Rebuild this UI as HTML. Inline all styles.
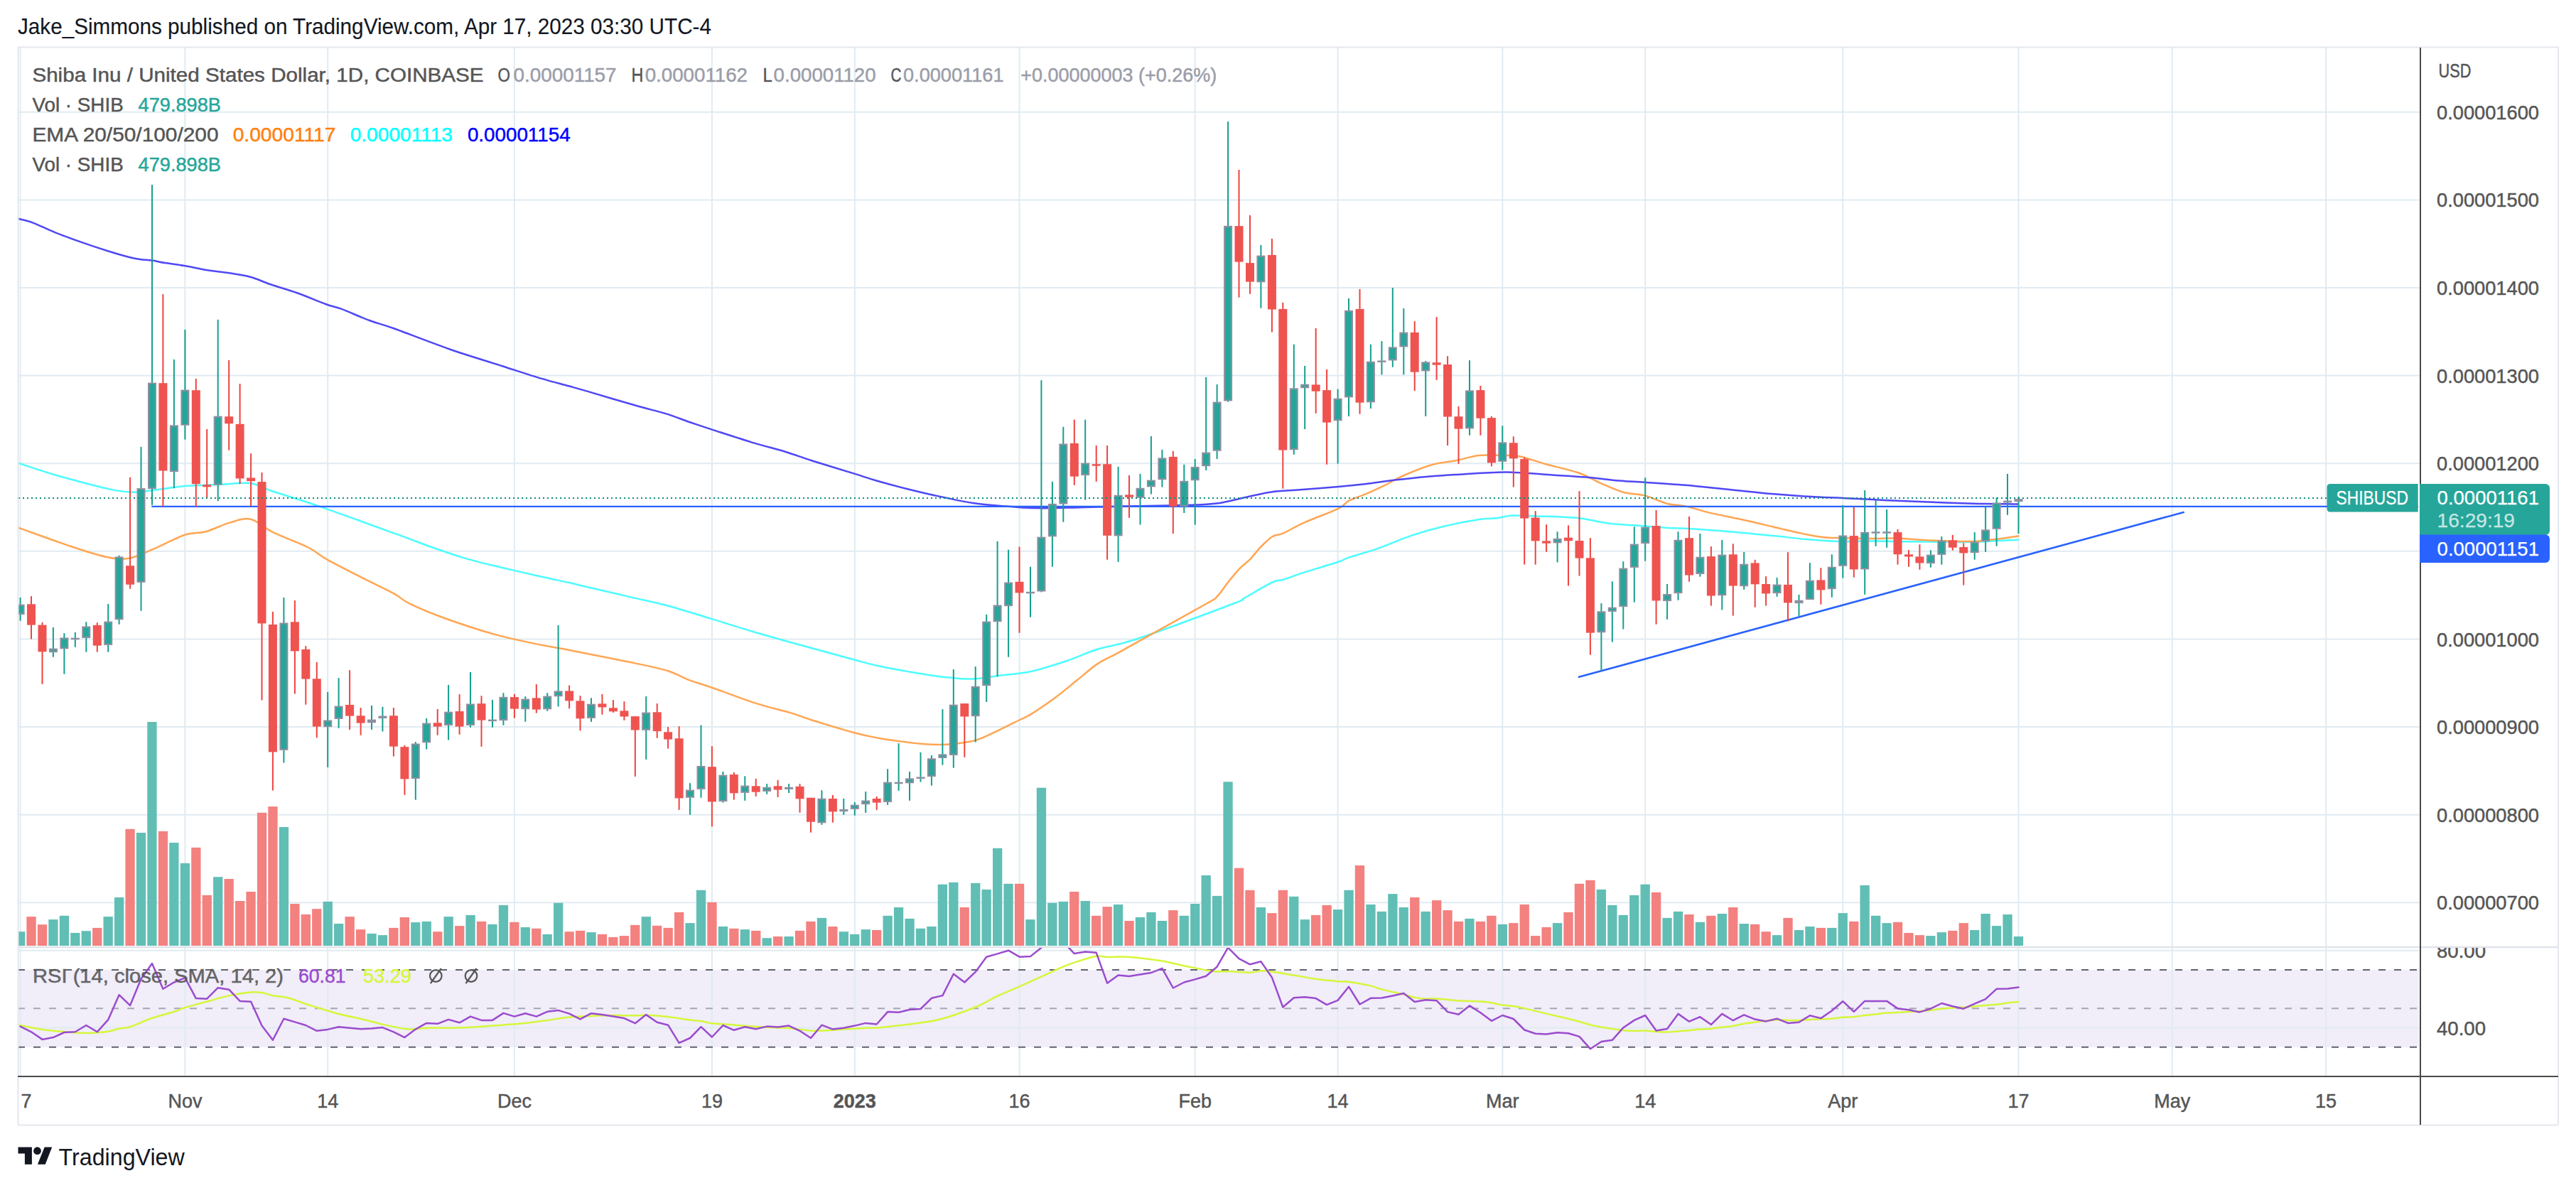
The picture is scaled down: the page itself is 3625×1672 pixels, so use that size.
<!DOCTYPE html>
<html><head><meta charset="utf-8"><title>SHIBUSD chart</title>
<style>html,body{margin:0;padding:0;background:#fff}body{width:3625px;height:1672px;overflow:hidden;font-family:"Liberation Sans",sans-serif}svg{display:block}</style>
</head><body>
<svg width="3625" height="1672" viewBox="0 0 3625 1672" font-family="Liberation Sans, sans-serif">
<rect width="3625" height="1672" fill="#fff"/>
<defs><clipPath id="cpMain"><rect x="25" y="67" width="3378" height="1265"/></clipPath><clipPath id="cpRsi"><rect x="25" y="1334" width="3575" height="181"/></clipPath></defs>
<text x="25.0" y="48.2" font-size="31.5" fill="#131722" stroke="#131722" stroke-width="0.15" textLength="976.0" lengthAdjust="spacingAndGlyphs" >Jake_Simmons published on TradingView.com, Apr 17, 2023 03:30 UTC-4</text>
<rect x="25" y="1365.0" width="3379" height="108.7" fill="#f1edf9"/>
<g stroke="#e0ebf2" stroke-width="2" fill="none">
<path d="M28.6 67V1514"/>
<path d="M260.4 67V1514"/>
<path d="M461.2 67V1514"/>
<path d="M723.9 67V1514"/>
<path d="M1001.9 67V1514"/>
<path d="M1202.8 67V1514"/>
<path d="M1434.5 67V1514"/>
<path d="M1681.7 67V1514"/>
<path d="M1882.6 67V1514"/>
<path d="M2114.3 67V1514"/>
<path d="M2315.2 67V1514"/>
<path d="M2593.3 67V1514"/>
<path d="M2840.5 67V1514"/>
<path d="M3056.8 67V1514"/>
<path d="M3273.1 67V1514"/>
<path d="M25 1270.3H3405"/>
<path d="M25 1146.7H3405"/>
<path d="M25 1023.1H3405"/>
<path d="M25 899.5H3405"/>
<path d="M25 775.8H3405"/>
<path d="M25 652.2H3405"/>
<path d="M25 528.6H3405"/>
<path d="M25 405.0H3405"/>
<path d="M25 281.4H3405"/>
<path d="M25 157.8H3405"/>
<path d="M25 1337.8H3405"/>
<path d="M25 1446.5H3405"/>
</g>
<g clip-path="url(#cpMain)">
<rect x="22.0" y="1311.2" width="13.3" height="19.8" fill="#5cbcb3" fill-opacity="0.97"/>
<rect x="37.4" y="1290.1" width="13.3" height="40.9" fill="#f37d7b" fill-opacity="0.97"/>
<rect x="52.9" y="1301.2" width="13.3" height="29.8" fill="#f37d7b" fill-opacity="0.97"/>
<rect x="68.3" y="1294.1" width="13.3" height="36.9" fill="#5cbcb3" fill-opacity="0.97"/>
<rect x="83.8" y="1288.8" width="13.3" height="42.2" fill="#5cbcb3" fill-opacity="0.97"/>
<rect x="99.2" y="1313.0" width="13.3" height="18.0" fill="#5cbcb3" fill-opacity="0.97"/>
<rect x="114.6" y="1310.2" width="13.3" height="20.8" fill="#5cbcb3" fill-opacity="0.97"/>
<rect x="130.1" y="1305.9" width="13.3" height="25.1" fill="#f37d7b" fill-opacity="0.97"/>
<rect x="145.5" y="1290.1" width="13.3" height="40.9" fill="#5cbcb3" fill-opacity="0.97"/>
<rect x="161.0" y="1263.0" width="13.3" height="68.0" fill="#5cbcb3" fill-opacity="0.97"/>
<rect x="176.4" y="1166.8" width="13.3" height="164.2" fill="#f37d7b" fill-opacity="0.97"/>
<rect x="191.9" y="1172.0" width="13.3" height="159.0" fill="#5cbcb3" fill-opacity="0.97"/>
<rect x="207.3" y="1016.0" width="13.3" height="315.0" fill="#5cbcb3" fill-opacity="0.97"/>
<rect x="222.8" y="1169.9" width="13.3" height="161.1" fill="#f37d7b" fill-opacity="0.97"/>
<rect x="238.2" y="1186.0" width="13.3" height="145.0" fill="#5cbcb3" fill-opacity="0.97"/>
<rect x="253.7" y="1214.9" width="13.3" height="116.1" fill="#5cbcb3" fill-opacity="0.97"/>
<rect x="269.2" y="1192.9" width="13.3" height="138.1" fill="#f37d7b" fill-opacity="0.97"/>
<rect x="284.6" y="1259.9" width="13.3" height="71.1" fill="#f37d7b" fill-opacity="0.97"/>
<rect x="300.1" y="1234.2" width="13.3" height="96.8" fill="#5cbcb3" fill-opacity="0.97"/>
<rect x="315.5" y="1237.0" width="13.3" height="94.0" fill="#f37d7b" fill-opacity="0.97"/>
<rect x="331.0" y="1268.0" width="13.3" height="63.0" fill="#f37d7b" fill-opacity="0.97"/>
<rect x="346.4" y="1255.0" width="13.3" height="76.0" fill="#f37d7b" fill-opacity="0.97"/>
<rect x="361.9" y="1143.8" width="13.3" height="187.2" fill="#f37d7b" fill-opacity="0.97"/>
<rect x="377.3" y="1135.1" width="13.3" height="195.9" fill="#f37d7b" fill-opacity="0.97"/>
<rect x="392.8" y="1164.0" width="13.3" height="167.0" fill="#5cbcb3" fill-opacity="0.97"/>
<rect x="408.2" y="1272.0" width="13.3" height="59.0" fill="#f37d7b" fill-opacity="0.97"/>
<rect x="423.7" y="1287.0" width="13.3" height="44.0" fill="#f37d7b" fill-opacity="0.97"/>
<rect x="439.1" y="1279.2" width="13.3" height="51.8" fill="#f37d7b" fill-opacity="0.97"/>
<rect x="454.6" y="1268.9" width="13.3" height="62.1" fill="#5cbcb3" fill-opacity="0.97"/>
<rect x="470.0" y="1300.0" width="13.3" height="31.0" fill="#5cbcb3" fill-opacity="0.97"/>
<rect x="485.5" y="1290.1" width="13.3" height="40.9" fill="#f37d7b" fill-opacity="0.97"/>
<rect x="500.9" y="1308.1" width="13.3" height="22.9" fill="#f37d7b" fill-opacity="0.97"/>
<rect x="516.4" y="1314.0" width="13.3" height="17.0" fill="#5cbcb3" fill-opacity="0.97"/>
<rect x="531.8" y="1316.1" width="13.3" height="14.9" fill="#5cbcb3" fill-opacity="0.97"/>
<rect x="547.2" y="1305.9" width="13.3" height="25.1" fill="#f37d7b" fill-opacity="0.97"/>
<rect x="562.7" y="1291.0" width="13.3" height="40.0" fill="#f37d7b" fill-opacity="0.97"/>
<rect x="578.1" y="1298.1" width="13.3" height="32.9" fill="#5cbcb3" fill-opacity="0.97"/>
<rect x="593.6" y="1296.9" width="13.3" height="34.1" fill="#5cbcb3" fill-opacity="0.97"/>
<rect x="609.1" y="1311.2" width="13.3" height="19.8" fill="#f37d7b" fill-opacity="0.97"/>
<rect x="624.5" y="1290.1" width="13.3" height="40.9" fill="#5cbcb3" fill-opacity="0.97"/>
<rect x="640.0" y="1303.1" width="13.3" height="27.9" fill="#f37d7b" fill-opacity="0.97"/>
<rect x="655.4" y="1287.9" width="13.3" height="43.1" fill="#5cbcb3" fill-opacity="0.97"/>
<rect x="670.9" y="1296.9" width="13.3" height="34.1" fill="#f37d7b" fill-opacity="0.97"/>
<rect x="686.3" y="1300.9" width="13.3" height="30.1" fill="#5cbcb3" fill-opacity="0.97"/>
<rect x="701.8" y="1273.9" width="13.3" height="57.1" fill="#5cbcb3" fill-opacity="0.97"/>
<rect x="717.2" y="1297.8" width="13.3" height="33.2" fill="#f37d7b" fill-opacity="0.97"/>
<rect x="732.6" y="1305.0" width="13.3" height="26.0" fill="#5cbcb3" fill-opacity="0.97"/>
<rect x="748.1" y="1306.8" width="13.3" height="24.2" fill="#f37d7b" fill-opacity="0.97"/>
<rect x="763.5" y="1314.9" width="13.3" height="16.1" fill="#5cbcb3" fill-opacity="0.97"/>
<rect x="779.0" y="1270.8" width="13.3" height="60.2" fill="#5cbcb3" fill-opacity="0.97"/>
<rect x="794.5" y="1311.2" width="13.3" height="19.8" fill="#f37d7b" fill-opacity="0.97"/>
<rect x="809.9" y="1309.9" width="13.3" height="21.1" fill="#f37d7b" fill-opacity="0.97"/>
<rect x="825.4" y="1312.1" width="13.3" height="18.9" fill="#5cbcb3" fill-opacity="0.97"/>
<rect x="840.8" y="1314.9" width="13.3" height="16.1" fill="#f37d7b" fill-opacity="0.97"/>
<rect x="856.2" y="1318.9" width="13.3" height="12.1" fill="#f37d7b" fill-opacity="0.97"/>
<rect x="871.7" y="1317.1" width="13.3" height="13.9" fill="#f37d7b" fill-opacity="0.97"/>
<rect x="887.1" y="1301.9" width="13.3" height="29.1" fill="#f37d7b" fill-opacity="0.97"/>
<rect x="902.6" y="1290.1" width="13.3" height="40.9" fill="#5cbcb3" fill-opacity="0.97"/>
<rect x="918.0" y="1302.8" width="13.3" height="28.2" fill="#f37d7b" fill-opacity="0.97"/>
<rect x="933.5" y="1305.9" width="13.3" height="25.1" fill="#f37d7b" fill-opacity="0.97"/>
<rect x="949.0" y="1283.9" width="13.3" height="47.1" fill="#f37d7b" fill-opacity="0.97"/>
<rect x="964.4" y="1299.1" width="13.3" height="31.9" fill="#5cbcb3" fill-opacity="0.97"/>
<rect x="979.9" y="1252.8" width="13.3" height="78.2" fill="#5cbcb3" fill-opacity="0.97"/>
<rect x="995.3" y="1269.9" width="13.3" height="61.1" fill="#f37d7b" fill-opacity="0.97"/>
<rect x="1010.8" y="1304.0" width="13.3" height="27.0" fill="#5cbcb3" fill-opacity="0.97"/>
<rect x="1026.2" y="1306.8" width="13.3" height="24.2" fill="#f37d7b" fill-opacity="0.97"/>
<rect x="1041.6" y="1308.1" width="13.3" height="22.9" fill="#5cbcb3" fill-opacity="0.97"/>
<rect x="1057.1" y="1309.9" width="13.3" height="21.1" fill="#f37d7b" fill-opacity="0.97"/>
<rect x="1072.5" y="1320.2" width="13.3" height="10.8" fill="#5cbcb3" fill-opacity="0.97"/>
<rect x="1088.0" y="1318.0" width="13.3" height="13.0" fill="#f37d7b" fill-opacity="0.97"/>
<rect x="1103.4" y="1318.0" width="13.3" height="13.0" fill="#5cbcb3" fill-opacity="0.97"/>
<rect x="1118.9" y="1309.9" width="13.3" height="21.1" fill="#f37d7b" fill-opacity="0.97"/>
<rect x="1134.3" y="1296.9" width="13.3" height="34.1" fill="#f37d7b" fill-opacity="0.97"/>
<rect x="1149.8" y="1291.9" width="13.3" height="39.1" fill="#5cbcb3" fill-opacity="0.97"/>
<rect x="1165.2" y="1304.0" width="13.3" height="27.0" fill="#f37d7b" fill-opacity="0.97"/>
<rect x="1180.7" y="1311.2" width="13.3" height="19.8" fill="#5cbcb3" fill-opacity="0.97"/>
<rect x="1196.1" y="1314.9" width="13.3" height="16.1" fill="#5cbcb3" fill-opacity="0.97"/>
<rect x="1211.6" y="1308.1" width="13.3" height="22.9" fill="#5cbcb3" fill-opacity="0.97"/>
<rect x="1227.0" y="1309.0" width="13.3" height="22.0" fill="#f37d7b" fill-opacity="0.97"/>
<rect x="1242.5" y="1288.8" width="13.3" height="42.2" fill="#5cbcb3" fill-opacity="0.97"/>
<rect x="1257.9" y="1277.0" width="13.3" height="54.0" fill="#5cbcb3" fill-opacity="0.97"/>
<rect x="1273.4" y="1292.9" width="13.3" height="38.1" fill="#5cbcb3" fill-opacity="0.97"/>
<rect x="1288.8" y="1306.8" width="13.3" height="24.2" fill="#5cbcb3" fill-opacity="0.97"/>
<rect x="1304.3" y="1304.0" width="13.3" height="27.0" fill="#5cbcb3" fill-opacity="0.97"/>
<rect x="1319.7" y="1244.7" width="13.3" height="86.3" fill="#5cbcb3" fill-opacity="0.97"/>
<rect x="1335.2" y="1241.9" width="13.3" height="89.1" fill="#5cbcb3" fill-opacity="0.97"/>
<rect x="1350.6" y="1277.0" width="13.3" height="54.0" fill="#f37d7b" fill-opacity="0.97"/>
<rect x="1366.1" y="1242.9" width="13.3" height="88.1" fill="#5cbcb3" fill-opacity="0.97"/>
<rect x="1381.5" y="1251.9" width="13.3" height="79.1" fill="#5cbcb3" fill-opacity="0.97"/>
<rect x="1397.0" y="1193.8" width="13.3" height="137.2" fill="#5cbcb3" fill-opacity="0.97"/>
<rect x="1412.4" y="1243.8" width="13.3" height="87.2" fill="#5cbcb3" fill-opacity="0.97"/>
<rect x="1427.9" y="1243.8" width="13.3" height="87.2" fill="#f37d7b" fill-opacity="0.97"/>
<rect x="1443.3" y="1294.1" width="13.3" height="36.9" fill="#5cbcb3" fill-opacity="0.97"/>
<rect x="1458.8" y="1108.7" width="13.3" height="222.3" fill="#5cbcb3" fill-opacity="0.97"/>
<rect x="1474.2" y="1270.8" width="13.3" height="60.2" fill="#5cbcb3" fill-opacity="0.97"/>
<rect x="1489.7" y="1268.9" width="13.3" height="62.1" fill="#5cbcb3" fill-opacity="0.97"/>
<rect x="1505.1" y="1255.0" width="13.3" height="76.0" fill="#f37d7b" fill-opacity="0.97"/>
<rect x="1520.6" y="1268.0" width="13.3" height="63.0" fill="#5cbcb3" fill-opacity="0.97"/>
<rect x="1536.0" y="1288.8" width="13.3" height="42.2" fill="#f37d7b" fill-opacity="0.97"/>
<rect x="1551.5" y="1276.1" width="13.3" height="54.9" fill="#f37d7b" fill-opacity="0.97"/>
<rect x="1566.9" y="1273.0" width="13.3" height="58.0" fill="#5cbcb3" fill-opacity="0.97"/>
<rect x="1582.4" y="1296.0" width="13.3" height="35.0" fill="#f37d7b" fill-opacity="0.97"/>
<rect x="1597.8" y="1291.0" width="13.3" height="40.0" fill="#5cbcb3" fill-opacity="0.97"/>
<rect x="1613.3" y="1283.9" width="13.3" height="47.1" fill="#5cbcb3" fill-opacity="0.97"/>
<rect x="1628.7" y="1296.0" width="13.3" height="35.0" fill="#5cbcb3" fill-opacity="0.97"/>
<rect x="1644.2" y="1281.1" width="13.3" height="49.9" fill="#f37d7b" fill-opacity="0.97"/>
<rect x="1659.6" y="1288.8" width="13.3" height="42.2" fill="#5cbcb3" fill-opacity="0.97"/>
<rect x="1675.1" y="1272.0" width="13.3" height="59.0" fill="#5cbcb3" fill-opacity="0.97"/>
<rect x="1690.5" y="1232.0" width="13.3" height="99.0" fill="#5cbcb3" fill-opacity="0.97"/>
<rect x="1706.0" y="1260.9" width="13.3" height="70.1" fill="#5cbcb3" fill-opacity="0.97"/>
<rect x="1721.4" y="1100.3" width="13.3" height="230.7" fill="#5cbcb3" fill-opacity="0.97"/>
<rect x="1736.9" y="1221.7" width="13.3" height="109.3" fill="#f37d7b" fill-opacity="0.97"/>
<rect x="1752.3" y="1252.8" width="13.3" height="78.2" fill="#f37d7b" fill-opacity="0.97"/>
<rect x="1767.8" y="1277.0" width="13.3" height="54.0" fill="#5cbcb3" fill-opacity="0.97"/>
<rect x="1783.2" y="1285.1" width="13.3" height="45.9" fill="#f37d7b" fill-opacity="0.97"/>
<rect x="1798.7" y="1252.8" width="13.3" height="78.2" fill="#f37d7b" fill-opacity="0.97"/>
<rect x="1814.1" y="1261.8" width="13.3" height="69.2" fill="#5cbcb3" fill-opacity="0.97"/>
<rect x="1829.6" y="1294.1" width="13.3" height="36.9" fill="#5cbcb3" fill-opacity="0.97"/>
<rect x="1845.0" y="1287.9" width="13.3" height="43.1" fill="#f37d7b" fill-opacity="0.97"/>
<rect x="1860.5" y="1273.9" width="13.3" height="57.1" fill="#f37d7b" fill-opacity="0.97"/>
<rect x="1875.9" y="1280.1" width="13.3" height="50.9" fill="#5cbcb3" fill-opacity="0.97"/>
<rect x="1891.4" y="1252.8" width="13.3" height="78.2" fill="#5cbcb3" fill-opacity="0.97"/>
<rect x="1906.8" y="1218.0" width="13.3" height="113.0" fill="#f37d7b" fill-opacity="0.97"/>
<rect x="1922.3" y="1273.0" width="13.3" height="58.0" fill="#5cbcb3" fill-opacity="0.97"/>
<rect x="1937.7" y="1282.9" width="13.3" height="48.1" fill="#5cbcb3" fill-opacity="0.97"/>
<rect x="1953.2" y="1258.1" width="13.3" height="72.9" fill="#5cbcb3" fill-opacity="0.97"/>
<rect x="1968.6" y="1277.0" width="13.3" height="54.0" fill="#5cbcb3" fill-opacity="0.97"/>
<rect x="1984.1" y="1263.0" width="13.3" height="68.0" fill="#f37d7b" fill-opacity="0.97"/>
<rect x="1999.5" y="1282.9" width="13.3" height="48.1" fill="#5cbcb3" fill-opacity="0.97"/>
<rect x="2015.0" y="1267.1" width="13.3" height="63.9" fill="#f37d7b" fill-opacity="0.97"/>
<rect x="2030.4" y="1281.1" width="13.3" height="49.9" fill="#f37d7b" fill-opacity="0.97"/>
<rect x="2045.9" y="1296.9" width="13.3" height="34.1" fill="#f37d7b" fill-opacity="0.97"/>
<rect x="2061.3" y="1292.9" width="13.3" height="38.1" fill="#5cbcb3" fill-opacity="0.97"/>
<rect x="2076.8" y="1296.9" width="13.3" height="34.1" fill="#f37d7b" fill-opacity="0.97"/>
<rect x="2092.2" y="1288.8" width="13.3" height="42.2" fill="#f37d7b" fill-opacity="0.97"/>
<rect x="2107.7" y="1300.9" width="13.3" height="30.1" fill="#5cbcb3" fill-opacity="0.97"/>
<rect x="2123.1" y="1299.1" width="13.3" height="31.9" fill="#f37d7b" fill-opacity="0.97"/>
<rect x="2138.6" y="1273.0" width="13.3" height="58.0" fill="#f37d7b" fill-opacity="0.97"/>
<rect x="2154.0" y="1317.1" width="13.3" height="13.9" fill="#f37d7b" fill-opacity="0.97"/>
<rect x="2169.5" y="1305.0" width="13.3" height="26.0" fill="#f37d7b" fill-opacity="0.97"/>
<rect x="2184.9" y="1299.1" width="13.3" height="31.9" fill="#5cbcb3" fill-opacity="0.97"/>
<rect x="2200.4" y="1283.9" width="13.3" height="47.1" fill="#f37d7b" fill-opacity="0.97"/>
<rect x="2215.8" y="1243.8" width="13.3" height="87.2" fill="#f37d7b" fill-opacity="0.97"/>
<rect x="2231.3" y="1238.8" width="13.3" height="92.2" fill="#f37d7b" fill-opacity="0.97"/>
<rect x="2246.7" y="1251.9" width="13.3" height="79.1" fill="#5cbcb3" fill-opacity="0.97"/>
<rect x="2262.2" y="1273.9" width="13.3" height="57.1" fill="#5cbcb3" fill-opacity="0.97"/>
<rect x="2277.6" y="1287.9" width="13.3" height="43.1" fill="#5cbcb3" fill-opacity="0.97"/>
<rect x="2293.1" y="1259.9" width="13.3" height="71.1" fill="#5cbcb3" fill-opacity="0.97"/>
<rect x="2308.5" y="1244.7" width="13.3" height="86.3" fill="#5cbcb3" fill-opacity="0.97"/>
<rect x="2324.0" y="1255.9" width="13.3" height="75.1" fill="#f37d7b" fill-opacity="0.97"/>
<rect x="2339.4" y="1291.9" width="13.3" height="39.1" fill="#5cbcb3" fill-opacity="0.97"/>
<rect x="2354.9" y="1282.9" width="13.3" height="48.1" fill="#5cbcb3" fill-opacity="0.97"/>
<rect x="2370.3" y="1287.0" width="13.3" height="44.0" fill="#f37d7b" fill-opacity="0.97"/>
<rect x="2385.8" y="1297.8" width="13.3" height="33.2" fill="#5cbcb3" fill-opacity="0.97"/>
<rect x="2401.2" y="1288.8" width="13.3" height="42.2" fill="#f37d7b" fill-opacity="0.97"/>
<rect x="2416.7" y="1286.0" width="13.3" height="45.0" fill="#5cbcb3" fill-opacity="0.97"/>
<rect x="2432.1" y="1277.0" width="13.3" height="54.0" fill="#f37d7b" fill-opacity="0.97"/>
<rect x="2447.6" y="1300.0" width="13.3" height="31.0" fill="#5cbcb3" fill-opacity="0.97"/>
<rect x="2463.0" y="1300.9" width="13.3" height="30.1" fill="#f37d7b" fill-opacity="0.97"/>
<rect x="2478.5" y="1311.2" width="13.3" height="19.8" fill="#f37d7b" fill-opacity="0.97"/>
<rect x="2493.9" y="1316.1" width="13.3" height="14.9" fill="#5cbcb3" fill-opacity="0.97"/>
<rect x="2509.4" y="1291.9" width="13.3" height="39.1" fill="#f37d7b" fill-opacity="0.97"/>
<rect x="2524.8" y="1309.0" width="13.3" height="22.0" fill="#5cbcb3" fill-opacity="0.97"/>
<rect x="2540.3" y="1304.0" width="13.3" height="27.0" fill="#5cbcb3" fill-opacity="0.97"/>
<rect x="2555.7" y="1305.9" width="13.3" height="25.1" fill="#f37d7b" fill-opacity="0.97"/>
<rect x="2571.2" y="1305.9" width="13.3" height="25.1" fill="#5cbcb3" fill-opacity="0.97"/>
<rect x="2586.6" y="1285.1" width="13.3" height="45.9" fill="#5cbcb3" fill-opacity="0.97"/>
<rect x="2602.1" y="1296.9" width="13.3" height="34.1" fill="#f37d7b" fill-opacity="0.97"/>
<rect x="2617.5" y="1246.0" width="13.3" height="85.0" fill="#5cbcb3" fill-opacity="0.97"/>
<rect x="2633.0" y="1288.8" width="13.3" height="42.2" fill="#5cbcb3" fill-opacity="0.97"/>
<rect x="2648.4" y="1299.1" width="13.3" height="31.9" fill="#5cbcb3" fill-opacity="0.97"/>
<rect x="2663.9" y="1297.8" width="13.3" height="33.2" fill="#f37d7b" fill-opacity="0.97"/>
<rect x="2679.3" y="1313.0" width="13.3" height="18.0" fill="#f37d7b" fill-opacity="0.97"/>
<rect x="2694.8" y="1316.1" width="13.3" height="14.9" fill="#f37d7b" fill-opacity="0.97"/>
<rect x="2710.2" y="1317.1" width="13.3" height="13.9" fill="#5cbcb3" fill-opacity="0.97"/>
<rect x="2725.7" y="1312.1" width="13.3" height="18.9" fill="#5cbcb3" fill-opacity="0.97"/>
<rect x="2741.1" y="1309.9" width="13.3" height="21.1" fill="#f37d7b" fill-opacity="0.97"/>
<rect x="2756.6" y="1299.1" width="13.3" height="31.9" fill="#f37d7b" fill-opacity="0.97"/>
<rect x="2772.0" y="1309.0" width="13.3" height="22.0" fill="#5cbcb3" fill-opacity="0.97"/>
<rect x="2787.5" y="1286.0" width="13.3" height="45.0" fill="#5cbcb3" fill-opacity="0.97"/>
<rect x="2802.9" y="1303.1" width="13.3" height="27.9" fill="#5cbcb3" fill-opacity="0.97"/>
<rect x="2818.4" y="1287.0" width="13.3" height="44.0" fill="#5cbcb3" fill-opacity="0.97"/>
<rect x="2833.8" y="1318.0" width="13.3" height="13.0" fill="#5cbcb3" fill-opacity="0.97"/>
</g>
<path d="M25 1333H3600" stroke="#e0e3eb" stroke-width="2.5"/>
<g clip-path="url(#cpMain)">
<path d="M25.5 651.6 C34.3 654.4 56.7 662.4 77.9 668.5 C99.0 674.5 134.4 684.0 152.6 688.1 C170.8 692.1 176.0 692.5 186.9 692.7 C197.8 693.0 205.8 691.1 218.0 689.6 C230.2 688.2 244.5 685.3 260.0 684.0 C275.6 682.7 296.0 682.5 311.4 681.8 C326.9 681.2 340.9 678.7 352.8 680.3 C364.8 681.8 367.1 685.8 383.1 691.2 C399.0 696.5 419.9 702.5 448.5 712.4 C477.0 722.2 527.9 740.8 554.3 750.4 C580.8 760.0 590.7 764.1 607.3 770.0 C623.9 775.8 637.4 780.7 654.0 785.6 C670.6 790.4 688.9 794.6 706.9 799.0 C725.0 803.3 746.8 808.2 762.3 811.7 C777.8 815.2 789.7 817.5 800.1 819.8 C810.4 822.2 809.8 822.2 824.6 825.7 C839.3 829.2 869.8 836.3 888.6 840.6 C907.3 845.0 918.2 846.7 937.0 851.8 C955.9 856.9 980.5 864.7 1001.8 871.1 C1023.1 877.6 1041.3 883.6 1064.7 890.5 C1088.2 897.3 1119.5 905.9 1142.6 912.3 C1165.6 918.6 1187.4 924.6 1203.0 928.8 C1218.6 932.9 1222.2 934.2 1236.0 937.2 C1249.8 940.1 1270.3 943.9 1285.8 946.5 C1301.4 949.2 1315.4 951.5 1329.4 953.0 C1343.4 954.6 1357.5 955.9 1369.9 955.5 C1382.4 955.2 1390.7 952.9 1404.2 951.2 C1417.7 949.4 1434.8 948.4 1450.9 945.0 C1467.0 941.5 1485.1 935.5 1500.7 930.3 C1516.3 925.1 1527.8 919.0 1544.3 913.8 C1560.9 908.6 1568.4 909.8 1600.1 899.2 C1631.8 888.5 1709.2 859.6 1734.4 850.0 C1759.7 840.3 1742.2 846.3 1751.6 841.3 C1760.9 836.2 1781.4 823.7 1790.5 819.5 C1799.6 815.2 1798.5 818.1 1806.1 815.7 C1813.6 813.4 1822.8 809.6 1835.7 805.4 C1848.5 801.3 1872.9 794.3 1883.3 790.8 C1893.7 787.3 1888.8 787.7 1897.9 784.6 C1907.1 781.5 1923.9 777.2 1938.4 772.1 C1953.0 767.0 1969.6 759.3 1985.1 754.1 C2000.7 748.8 2015.8 744.5 2031.9 740.7 C2048.0 736.8 2069.3 732.8 2081.7 730.9 C2094.2 729.0 2098.9 730.1 2106.7 729.2 C2114.5 728.3 2119.2 725.9 2128.5 725.5 C2137.9 725.0 2147.2 725.8 2162.8 726.4 C2178.3 727.0 2205.3 727.5 2221.9 729.2 C2238.6 730.9 2247.0 734.5 2262.4 736.4 C2277.9 738.2 2300.7 739.3 2314.7 740.4 C2328.8 741.5 2337.1 742.3 2346.5 742.9 C2356.0 743.5 2356.9 743.0 2371.4 743.8 C2386.0 744.7 2413.0 746.5 2433.7 748.2 C2454.5 749.9 2479.4 752.5 2496.0 754.1 C2512.6 755.8 2522.0 757.1 2533.4 758.2 C2544.8 759.3 2554.5 760.0 2564.5 760.7 C2574.5 761.3 2581.2 761.8 2593.2 761.9 C2605.1 762.1 2621.2 761.5 2636.1 761.6 C2651.1 761.6 2664.7 762.0 2682.9 762.2 C2701.0 762.4 2729.6 762.7 2745.1 762.8 C2760.7 762.9 2765.9 763.1 2776.3 762.8 C2786.7 762.6 2796.8 761.8 2807.4 761.3 C2818.1 760.8 2834.7 760.0 2840.1 759.7" stroke="#4dfcff" stroke-width="2.5" fill="none" stroke-linejoin="round" stroke-linecap="round" />
<path d="M25.5 742.6 C38.4 747.1 81.6 763.0 102.8 770.0 C123.9 777.0 139.3 782.0 152.6 784.6 C165.9 787.2 172.4 787.5 182.8 785.6 C193.2 783.7 202.0 778.6 214.9 773.1 C227.8 767.7 247.6 757.0 260.0 752.8 C272.5 748.7 279.0 751.1 289.6 748.2 C300.3 745.3 313.3 738.3 323.9 735.4 C334.4 732.5 342.7 728.4 352.8 730.7 C363.0 733.1 371.3 742.9 384.6 749.4 C398.0 756.0 420.2 763.6 432.9 770.0 C445.6 776.4 447.9 780.5 460.9 787.8 C473.9 795.0 495.2 805.7 510.7 813.6 C526.3 821.5 543.4 829.4 554.3 835.4 C565.2 841.4 564.7 843.8 576.1 849.4 C587.6 855.0 603.1 861.9 622.9 869.0 C642.6 876.2 672.7 886.2 694.5 892.4 C716.3 898.6 736.1 902.4 753.7 906.1 C771.3 909.8 784.6 911.8 800.1 914.8 C815.6 917.8 831.2 921.0 846.7 924.1 C862.3 927.2 877.9 930.1 893.4 933.4 C909.0 936.8 927.2 940.3 940.1 944.3 C953.1 948.4 961.0 953.8 971.3 957.7 C981.6 961.6 986.2 962.3 1001.8 967.7 C1017.4 973.1 1046.4 984.2 1064.7 990.1 C1083.0 996.0 1098.5 999.0 1111.4 1002.9 C1124.4 1006.8 1127.3 1008.7 1142.6 1013.5 C1157.8 1018.2 1187.4 1027.3 1203.0 1031.5 C1218.6 1035.7 1225.3 1036.7 1236.0 1038.7 C1246.7 1040.7 1256.8 1042.0 1267.1 1043.4 C1277.5 1044.8 1288.4 1046.3 1298.3 1047.1 C1308.1 1047.9 1316.5 1048.4 1326.3 1048.0 C1336.2 1047.7 1349.2 1046.1 1357.5 1044.9 C1365.8 1043.7 1368.4 1043.6 1376.1 1040.9 C1383.9 1038.1 1394.5 1033.0 1404.2 1028.4 C1413.8 1023.8 1426.3 1017.4 1434.1 1013.5 C1441.9 1009.6 1442.4 1010.4 1450.9 1005.1 C1459.4 999.8 1474.2 989.7 1485.1 981.7 C1496.0 973.7 1506.4 964.7 1516.3 956.8 C1526.1 948.9 1535.0 940.6 1544.3 934.4 C1553.7 928.1 1563.1 924.5 1572.3 919.4 C1581.6 914.3 1579.3 915.4 1600.1 903.8 C1620.9 892.3 1678.3 860.7 1697.1 850.0 C1715.8 839.3 1707.5 844.8 1712.6 839.7 C1717.8 834.6 1723.0 825.9 1728.2 819.5 C1733.4 813.0 1738.6 806.2 1743.8 800.8 C1749.0 795.3 1754.2 792.1 1759.4 786.8 C1764.5 781.5 1769.7 774.2 1774.9 769.0 C1780.1 763.8 1785.3 758.4 1790.5 755.3 C1795.7 752.2 1798.5 753.6 1806.1 750.3 C1813.6 747.0 1822.8 741.1 1835.7 735.4 C1848.5 729.6 1872.9 720.8 1883.3 715.8 C1893.7 710.7 1891.4 708.3 1897.9 704.9 C1904.5 701.4 1914.6 698.5 1922.9 694.9 C1931.2 691.3 1938.9 687.7 1947.8 683.4 C1956.6 679.1 1964.4 674.0 1975.8 669.0 C1987.2 664.1 2004.3 657.2 2016.3 653.8 C2028.2 650.4 2036.8 650.6 2047.4 648.5 C2058.1 646.4 2070.3 642.3 2080.2 641.0 C2090.1 639.8 2097.1 640.5 2106.7 640.8 C2116.3 641.0 2126.4 640.2 2137.9 642.3 C2149.3 644.4 2161.2 649.3 2175.2 653.2 C2189.2 657.1 2209.0 661.2 2221.9 665.7 C2234.9 670.2 2242.7 675.8 2253.1 680.3 C2263.5 684.8 2274.0 689.9 2284.2 692.8 C2294.5 695.6 2304.4 694.7 2314.7 697.4 C2325.1 700.1 2337.1 706.5 2346.5 709.0 C2356.0 711.5 2361.0 710.2 2371.4 712.4 C2381.8 714.6 2395.8 719.3 2408.8 722.4 C2421.8 725.4 2434.8 727.5 2449.3 730.8 C2463.8 734.0 2482.0 738.4 2496.0 741.7 C2510.0 744.9 2522.0 748.0 2533.4 750.4 C2544.8 752.8 2554.5 754.8 2564.5 756.0 C2574.5 757.1 2581.2 756.9 2593.2 757.2 C2605.1 757.5 2623.8 757.8 2636.1 757.9 C2648.5 757.9 2654.3 757.1 2667.3 757.5 C2680.3 758.0 2701.0 759.7 2714.0 760.4 C2727.0 761.0 2734.8 761.3 2745.1 761.6 C2755.5 761.9 2765.9 762.3 2776.3 761.9 C2786.7 761.5 2796.8 760.4 2807.4 759.1 C2818.1 757.9 2834.7 755.2 2840.1 754.4" stroke="#ffa653" stroke-width="2.5" fill="none" stroke-linejoin="round" stroke-linecap="round" />
<path d="M25.2 307.8 C28.7 308.7 37.7 310.3 46.5 313.6 C55.2 316.8 65.8 322.5 77.4 327.1 C89.0 331.8 103.9 337.1 116.1 341.4 C128.4 345.8 140.0 349.6 151.0 353.0 C162.0 356.5 174.2 360.0 182.0 362.0 C189.7 364.0 192.1 364.3 197.4 365.0 C202.8 365.8 208.3 365.8 214.1 366.6 C219.9 367.4 224.7 368.9 232.3 370.1 C239.8 371.3 249.7 372.3 259.4 374.0 C269.1 375.6 280.0 378.5 290.4 380.1 C300.7 381.8 311.0 382.4 321.3 384.0 C331.7 385.6 342.4 387.1 352.3 389.8 C362.2 392.5 369.9 396.6 380.8 400.3 C391.8 404.1 405.1 407.6 418.1 412.3 C431.1 416.9 448.6 424.5 458.9 428.2 C469.2 432.0 469.9 430.9 480.1 434.7 C490.2 438.5 507.6 446.4 519.9 451.0 C532.3 455.6 535.6 455.6 554.3 462.3 C573.1 469.0 606.8 482.4 632.2 491.2 C657.6 500.1 685.3 508.3 706.9 515.2 C728.6 522.2 746.8 528.3 762.3 532.9 C777.8 537.6 789.7 540.4 800.1 543.3 C810.4 546.1 809.1 545.6 824.6 550.1 C840.1 554.6 874.4 565.0 893.1 570.3 C911.8 575.7 923.7 578.2 936.7 582.1 C949.7 586.1 960.0 590.6 970.9 594.3 C981.8 598.0 987.6 599.8 1002.1 604.6 C1016.6 609.3 1041.0 617.4 1058.1 622.6 C1075.3 627.8 1090.8 631.5 1104.9 635.7 C1118.9 640.0 1125.9 643.0 1142.2 648.2 C1158.6 653.4 1187.9 662.2 1203.0 666.9 C1218.0 671.5 1220.3 672.7 1232.5 676.2 C1244.7 679.7 1261.1 684.2 1276.1 688.0 C1291.2 691.8 1307.3 695.6 1322.9 698.9 C1338.4 702.3 1354.0 705.7 1369.6 708.0 C1385.1 710.3 1403.3 711.5 1416.3 712.6 C1429.3 713.8 1437.0 714.4 1447.4 714.8 C1457.8 715.2 1466.8 715.2 1478.6 715.1 C1490.3 715.0 1501.0 714.6 1518.0 714.2 C1535.0 713.8 1559.5 713.1 1580.3 712.6 C1601.0 712.2 1625.6 711.8 1642.6 711.4 C1659.5 711.0 1670.2 711.0 1682.1 710.5 C1694.1 709.9 1702.6 710.0 1714.2 708.3 C1725.8 706.6 1739.1 702.8 1751.6 700.2 C1764.0 697.5 1776.0 694.2 1788.9 692.4 C1801.9 690.6 1813.7 690.5 1829.4 689.3 C1845.2 688.0 1867.7 686.3 1883.3 684.9 C1898.9 683.5 1909.5 682.4 1922.9 680.9 C1936.2 679.3 1949.3 677.2 1963.3 675.6 C1977.4 673.9 1991.1 672.3 2006.9 670.9 C2022.8 669.5 2044.4 668.3 2058.4 667.4 C2072.4 666.4 2079.5 665.8 2091.1 665.4 C2102.8 664.9 2112.9 664.2 2128.5 664.7 C2144.1 665.3 2167.4 667.3 2184.6 668.5 C2201.7 669.6 2215.7 670.2 2231.3 671.6 C2246.9 672.9 2264.1 675.4 2278.0 676.6 C2291.9 677.8 2299.2 677.7 2314.7 678.8 C2330.3 679.8 2351.6 681.1 2371.4 682.8 C2391.3 684.5 2413.0 687.0 2433.7 689.0 C2454.5 691.1 2475.2 693.5 2496.0 695.3 C2516.8 697.0 2542.1 698.7 2558.3 699.6 C2574.5 700.6 2577.6 700.1 2593.2 700.9 C2608.7 701.6 2631.6 703.0 2651.7 704.0 C2671.9 704.9 2693.2 705.7 2714.0 706.5 C2734.8 707.3 2755.3 708.1 2776.3 708.7 C2797.3 709.2 2829.5 709.4 2840.1 709.6" stroke="#4f48f5" stroke-width="2.5" fill="none" stroke-linejoin="round" stroke-linecap="round" />
<path d="M213.3 712.9H3406" stroke="#2962ff" stroke-width="2.3"/>
<path d="M2221.9 952.8L3072.7 721" stroke="#2962ff" stroke-width="2.6" stroke-linecap="round"/>
<rect x="27.6" y="841.0" width="2" height="32.7" fill="#149f8f"/>
<rect x="23.6" y="851.7" width="10" height="12.3" fill="#26a69a" stroke="#8e90a0" stroke-width="2"/>
<rect x="43.0" y="839.1" width="2" height="60.4" fill="#ee4340"/>
<rect x="38.0" y="850.3" width="12" height="29.3" fill="#ef5350"/>
<rect x="58.5" y="875.9" width="2" height="86.9" fill="#ee4340"/>
<rect x="53.5" y="879.6" width="12" height="37.7" fill="#ef5350"/>
<rect x="73.9" y="883.0" width="2" height="41.7" fill="#149f8f"/>
<rect x="69.9" y="913.6" width="10" height="3.6" fill="#26a69a" stroke="#8e90a0" stroke-width="2"/>
<rect x="89.4" y="891.1" width="2" height="57.6" fill="#149f8f"/>
<rect x="85.4" y="898.4" width="10" height="13.9" fill="#26a69a" stroke="#8e90a0" stroke-width="2"/>
<rect x="104.8" y="889.9" width="2" height="20.9" fill="#149f8f"/>
<rect x="99.8" y="897.7" width="12" height="2.5" fill="#8e90a0"/>
<rect x="120.3" y="875.3" width="2" height="42.4" fill="#149f8f"/>
<rect x="116.3" y="882.5" width="10" height="14.5" fill="#26a69a" stroke="#8e90a0" stroke-width="2"/>
<rect x="135.8" y="876.2" width="2" height="41.4" fill="#ee4340"/>
<rect x="130.8" y="879.9" width="12" height="28.7" fill="#ef5350"/>
<rect x="151.2" y="850.0" width="2" height="67.6" fill="#149f8f"/>
<rect x="147.2" y="875.6" width="10" height="31.3" fill="#26a69a" stroke="#8e90a0" stroke-width="2"/>
<rect x="166.6" y="781.8" width="2" height="96.9" fill="#149f8f"/>
<rect x="162.6" y="784.4" width="10" height="86.8" fill="#26a69a" stroke="#8e90a0" stroke-width="2"/>
<rect x="182.1" y="671.9" width="2" height="156.7" fill="#ee4340"/>
<rect x="177.1" y="796.2" width="12" height="26.5" fill="#ef5350"/>
<rect x="197.5" y="628.9" width="2" height="230.8" fill="#149f8f"/>
<rect x="193.5" y="688.1" width="10" height="130.7" fill="#26a69a" stroke="#8e90a0" stroke-width="2"/>
<rect x="213.0" y="260.1" width="2" height="450.7" fill="#149f8f"/>
<rect x="209.0" y="539.6" width="10" height="147.5" fill="#26a69a" stroke="#8e90a0" stroke-width="2"/>
<rect x="228.4" y="414.0" width="2" height="299.0" fill="#ee4340"/>
<rect x="223.4" y="539.2" width="12" height="123.3" fill="#ef5350"/>
<rect x="243.9" y="505.9" width="2" height="181.3" fill="#149f8f"/>
<rect x="239.9" y="599.4" width="10" height="63.7" fill="#26a69a" stroke="#8e90a0" stroke-width="2"/>
<rect x="259.4" y="463.8" width="2" height="154.8" fill="#149f8f"/>
<rect x="255.4" y="549.6" width="10" height="48.1" fill="#26a69a" stroke="#8e90a0" stroke-width="2"/>
<rect x="274.8" y="533.0" width="2" height="180.0" fill="#ee4340"/>
<rect x="269.8" y="549.2" width="12" height="132.0" fill="#ef5350"/>
<rect x="290.2" y="604.0" width="2" height="96.5" fill="#ee4340"/>
<rect x="285.2" y="682.2" width="12" height="3.1" fill="#ef5350"/>
<rect x="305.7" y="449.8" width="2" height="255.4" fill="#149f8f"/>
<rect x="301.7" y="586.6" width="10" height="95.2" fill="#26a69a" stroke="#8e90a0" stroke-width="2"/>
<rect x="321.2" y="506.8" width="2" height="126.8" fill="#ee4340"/>
<rect x="316.2" y="586.2" width="12" height="10.0" fill="#ef5350"/>
<rect x="336.6" y="540.1" width="2" height="141.1" fill="#ee4340"/>
<rect x="331.6" y="596.8" width="12" height="76.6" fill="#ef5350"/>
<rect x="352.1" y="638.2" width="2" height="74.1" fill="#ee4340"/>
<rect x="347.1" y="672.5" width="12" height="4.7" fill="#ef5350"/>
<rect x="367.5" y="665.0" width="2" height="320.5" fill="#ee4340"/>
<rect x="362.5" y="678.1" width="12" height="199.3" fill="#ef5350"/>
<rect x="382.9" y="860.9" width="2" height="251.6" fill="#ee4340"/>
<rect x="377.9" y="879.0" width="12" height="179.4" fill="#ef5350"/>
<rect x="398.4" y="841.0" width="2" height="232.6" fill="#149f8f"/>
<rect x="394.4" y="877.5" width="10" height="177.4" fill="#26a69a" stroke="#8e90a0" stroke-width="2"/>
<rect x="413.9" y="845.1" width="2" height="131.4" fill="#ee4340"/>
<rect x="408.9" y="875.3" width="12" height="41.1" fill="#ef5350"/>
<rect x="429.3" y="909.2" width="2" height="82.5" fill="#ee4340"/>
<rect x="424.3" y="913.9" width="12" height="41.7" fill="#ef5350"/>
<rect x="444.8" y="931.9" width="2" height="106.5" fill="#ee4340"/>
<rect x="439.8" y="955.3" width="12" height="67.3" fill="#ef5350"/>
<rect x="460.2" y="974.0" width="2" height="105.9" fill="#149f8f"/>
<rect x="456.2" y="1014.5" width="10" height="7.7" fill="#26a69a" stroke="#8e90a0" stroke-width="2"/>
<rect x="475.6" y="954.1" width="2" height="70.7" fill="#149f8f"/>
<rect x="471.6" y="994.6" width="10" height="16.4" fill="#26a69a" stroke="#8e90a0" stroke-width="2"/>
<rect x="491.1" y="943.2" width="2" height="83.8" fill="#ee4340"/>
<rect x="486.1" y="992.0" width="12" height="15.6" fill="#ef5350"/>
<rect x="506.6" y="996.1" width="2" height="38.6" fill="#ee4340"/>
<rect x="501.6" y="1007.3" width="12" height="10.3" fill="#ef5350"/>
<rect x="522.0" y="993.0" width="2" height="33.9" fill="#149f8f"/>
<rect x="517.0" y="1012.6" width="12" height="4.7" fill="#8e90a0"/>
<rect x="537.4" y="994.9" width="2" height="34.6" fill="#149f8f"/>
<rect x="532.4" y="1007.6" width="12" height="3.4" fill="#8e90a0"/>
<rect x="552.9" y="996.1" width="2" height="68.5" fill="#ee4340"/>
<rect x="547.9" y="1007.3" width="12" height="43.3" fill="#ef5350"/>
<rect x="568.4" y="1049.0" width="2" height="69.8" fill="#ee4340"/>
<rect x="563.4" y="1051.2" width="12" height="45.2" fill="#ef5350"/>
<rect x="583.8" y="1044.1" width="2" height="81.6" fill="#149f8f"/>
<rect x="579.8" y="1047.5" width="10" height="47.5" fill="#26a69a" stroke="#8e90a0" stroke-width="2"/>
<rect x="599.2" y="1011.0" width="2" height="43.6" fill="#149f8f"/>
<rect x="595.2" y="1018.6" width="10" height="25.7" fill="#26a69a" stroke="#8e90a0" stroke-width="2"/>
<rect x="614.7" y="998.0" width="2" height="36.7" fill="#ee4340"/>
<rect x="609.7" y="1017.3" width="12" height="5.3" fill="#ef5350"/>
<rect x="630.1" y="964.0" width="2" height="77.5" fill="#149f8f"/>
<rect x="626.1" y="1002.7" width="10" height="17.3" fill="#26a69a" stroke="#8e90a0" stroke-width="2"/>
<rect x="645.6" y="977.1" width="2" height="56.7" fill="#ee4340"/>
<rect x="640.6" y="1001.1" width="12" height="21.5" fill="#ef5350"/>
<rect x="661.0" y="946.0" width="2" height="77.9" fill="#149f8f"/>
<rect x="657.0" y="991.5" width="10" height="28.5" fill="#26a69a" stroke="#8e90a0" stroke-width="2"/>
<rect x="676.5" y="979.3" width="2" height="71.6" fill="#ee4340"/>
<rect x="671.5" y="990.2" width="12" height="23.4" fill="#ef5350"/>
<rect x="692.0" y="984.9" width="2" height="38.9" fill="#149f8f"/>
<rect x="687.0" y="1012.6" width="12" height="2.5" fill="#8e90a0"/>
<rect x="707.4" y="975.2" width="2" height="45.5" fill="#149f8f"/>
<rect x="703.4" y="981.8" width="10" height="31.3" fill="#26a69a" stroke="#8e90a0" stroke-width="2"/>
<rect x="722.9" y="976.8" width="2" height="33.9" fill="#ee4340"/>
<rect x="717.9" y="981.1" width="12" height="16.5" fill="#ef5350"/>
<rect x="738.3" y="980.2" width="2" height="35.5" fill="#149f8f"/>
<rect x="734.3" y="984.6" width="10" height="12.6" fill="#26a69a" stroke="#8e90a0" stroke-width="2"/>
<rect x="753.8" y="963.1" width="2" height="40.5" fill="#ee4340"/>
<rect x="748.8" y="982.4" width="12" height="16.2" fill="#ef5350"/>
<rect x="769.2" y="975.2" width="2" height="25.5" fill="#149f8f"/>
<rect x="765.2" y="980.6" width="10" height="16.7" fill="#26a69a" stroke="#8e90a0" stroke-width="2"/>
<rect x="784.6" y="879.9" width="2" height="114.6" fill="#149f8f"/>
<rect x="780.6" y="973.4" width="10" height="5.8" fill="#26a69a" stroke="#8e90a0" stroke-width="2"/>
<rect x="800.1" y="964.6" width="2" height="32.7" fill="#ee4340"/>
<rect x="795.1" y="972.4" width="12" height="14.0" fill="#ef5350"/>
<rect x="815.5" y="979.2" width="2" height="49.2" fill="#ee4340"/>
<rect x="810.5" y="986.4" width="12" height="24.9" fill="#ef5350"/>
<rect x="831.0" y="982.3" width="2" height="33.6" fill="#149f8f"/>
<rect x="827.0" y="991.7" width="10" height="18.2" fill="#26a69a" stroke="#8e90a0" stroke-width="2"/>
<rect x="846.4" y="977.0" width="2" height="28.7" fill="#ee4340"/>
<rect x="841.4" y="990.4" width="12" height="5.0" fill="#ef5350"/>
<rect x="861.9" y="985.1" width="2" height="17.8" fill="#ee4340"/>
<rect x="856.9" y="996.3" width="12" height="5.0" fill="#ef5350"/>
<rect x="877.4" y="987.3" width="2" height="26.5" fill="#ee4340"/>
<rect x="872.4" y="1000.4" width="12" height="8.1" fill="#ef5350"/>
<rect x="892.8" y="1008.2" width="2" height="84.7" fill="#ee4340"/>
<rect x="887.8" y="1008.2" width="12" height="19.3" fill="#ef5350"/>
<rect x="908.2" y="980.1" width="2" height="88.8" fill="#149f8f"/>
<rect x="904.2" y="1003.6" width="10" height="23.2" fill="#26a69a" stroke="#8e90a0" stroke-width="2"/>
<rect x="923.7" y="990.1" width="2" height="48.6" fill="#ee4340"/>
<rect x="918.7" y="1002.3" width="12" height="26.8" fill="#ef5350"/>
<rect x="939.1" y="1023.1" width="2" height="30.5" fill="#ee4340"/>
<rect x="934.1" y="1030.3" width="12" height="10.3" fill="#ef5350"/>
<rect x="954.6" y="1022.2" width="2" height="117.7" fill="#ee4340"/>
<rect x="949.6" y="1039.3" width="12" height="84.1" fill="#ef5350"/>
<rect x="970.0" y="1102.2" width="2" height="44.5" fill="#149f8f"/>
<rect x="966.0" y="1112.6" width="10" height="9.2" fill="#26a69a" stroke="#8e90a0" stroke-width="2"/>
<rect x="985.5" y="1020.6" width="2" height="102.1" fill="#149f8f"/>
<rect x="981.5" y="1078.9" width="10" height="31.0" fill="#26a69a" stroke="#8e90a0" stroke-width="2"/>
<rect x="1000.9" y="1050.2" width="2" height="113.0" fill="#ee4340"/>
<rect x="995.9" y="1079.2" width="12" height="49.2" fill="#ef5350"/>
<rect x="1016.4" y="1086.0" width="2" height="43.6" fill="#149f8f"/>
<rect x="1012.4" y="1091.7" width="10" height="35.4" fill="#26a69a" stroke="#8e90a0" stroke-width="2"/>
<rect x="1031.8" y="1087.0" width="2" height="38.6" fill="#ee4340"/>
<rect x="1026.8" y="1090.1" width="12" height="26.2" fill="#ef5350"/>
<rect x="1047.3" y="1092.3" width="2" height="34.6" fill="#149f8f"/>
<rect x="1043.3" y="1106.6" width="10" height="8.3" fill="#26a69a" stroke="#8e90a0" stroke-width="2"/>
<rect x="1062.7" y="1096.0" width="2" height="24.9" fill="#ee4340"/>
<rect x="1057.7" y="1106.3" width="12" height="8.4" fill="#ef5350"/>
<rect x="1078.2" y="1103.2" width="2" height="14.6" fill="#149f8f"/>
<rect x="1074.2" y="1108.8" width="10" height="4.2" fill="#26a69a" stroke="#8e90a0" stroke-width="2"/>
<rect x="1093.6" y="1097.9" width="2" height="24.0" fill="#ee4340"/>
<rect x="1088.6" y="1106.3" width="12" height="5.3" fill="#ef5350"/>
<rect x="1109.1" y="1103.2" width="2" height="12.8" fill="#149f8f"/>
<rect x="1104.1" y="1107.8" width="12" height="3.1" fill="#8e90a0"/>
<rect x="1124.5" y="1103.2" width="2" height="40.5" fill="#ee4340"/>
<rect x="1119.5" y="1106.9" width="12" height="17.4" fill="#ef5350"/>
<rect x="1140.0" y="1122.8" width="2" height="48.9" fill="#ee4340"/>
<rect x="1135.0" y="1122.8" width="12" height="33.9" fill="#ef5350"/>
<rect x="1155.4" y="1112.2" width="2" height="48.6" fill="#149f8f"/>
<rect x="1151.4" y="1124.7" width="10" height="32.6" fill="#26a69a" stroke="#8e90a0" stroke-width="2"/>
<rect x="1170.9" y="1119.0" width="2" height="38.6" fill="#ee4340"/>
<rect x="1165.9" y="1124.0" width="12" height="18.4" fill="#ef5350"/>
<rect x="1186.3" y="1124.0" width="2" height="22.7" fill="#149f8f"/>
<rect x="1181.3" y="1139.0" width="12" height="3.1" fill="#8e90a0"/>
<rect x="1201.8" y="1129.0" width="2" height="18.7" fill="#149f8f"/>
<rect x="1197.8" y="1133.7" width="10" height="4.2" fill="#26a69a" stroke="#8e90a0" stroke-width="2"/>
<rect x="1217.2" y="1114.1" width="2" height="29.9" fill="#149f8f"/>
<rect x="1213.2" y="1127.5" width="10" height="3.6" fill="#26a69a" stroke="#8e90a0" stroke-width="2"/>
<rect x="1232.7" y="1120.9" width="2" height="19.0" fill="#ee4340"/>
<rect x="1227.7" y="1124.0" width="12" height="5.6" fill="#ef5350"/>
<rect x="1248.1" y="1082.3" width="2" height="50.5" fill="#149f8f"/>
<rect x="1244.1" y="1101.7" width="10" height="26.3" fill="#26a69a" stroke="#8e90a0" stroke-width="2"/>
<rect x="1263.6" y="1046.2" width="2" height="66.6" fill="#149f8f"/>
<rect x="1258.6" y="1100.7" width="12" height="2.5" fill="#8e90a0"/>
<rect x="1279.0" y="1086.0" width="2" height="40.8" fill="#149f8f"/>
<rect x="1275.0" y="1096.4" width="10" height="4.9" fill="#26a69a" stroke="#8e90a0" stroke-width="2"/>
<rect x="1294.5" y="1058.9" width="2" height="41.7" fill="#149f8f"/>
<rect x="1289.5" y="1093.5" width="12" height="2.5" fill="#8e90a0"/>
<rect x="1309.9" y="1063.0" width="2" height="42.7" fill="#149f8f"/>
<rect x="1305.9" y="1068.3" width="10" height="23.8" fill="#26a69a" stroke="#8e90a0" stroke-width="2"/>
<rect x="1325.4" y="998.2" width="2" height="78.5" fill="#149f8f"/>
<rect x="1321.4" y="1062.4" width="10" height="3.6" fill="#26a69a" stroke="#8e90a0" stroke-width="2"/>
<rect x="1340.8" y="942.1" width="2" height="138.6" fill="#149f8f"/>
<rect x="1336.8" y="992.7" width="10" height="69.3" fill="#26a69a" stroke="#8e90a0" stroke-width="2"/>
<rect x="1356.3" y="990.1" width="2" height="75.7" fill="#ee4340"/>
<rect x="1351.3" y="990.1" width="12" height="18.4" fill="#ef5350"/>
<rect x="1371.7" y="938.1" width="2" height="106.5" fill="#149f8f"/>
<rect x="1367.7" y="966.8" width="10" height="40.4" fill="#26a69a" stroke="#8e90a0" stroke-width="2"/>
<rect x="1387.2" y="864.9" width="2" height="123.0" fill="#149f8f"/>
<rect x="1383.2" y="875.6" width="10" height="88.6" fill="#26a69a" stroke="#8e90a0" stroke-width="2"/>
<rect x="1402.6" y="761.8" width="2" height="190.3" fill="#149f8f"/>
<rect x="1398.6" y="852.5" width="10" height="21.7" fill="#26a69a" stroke="#8e90a0" stroke-width="2"/>
<rect x="1418.1" y="773.7" width="2" height="151.0" fill="#149f8f"/>
<rect x="1414.1" y="820.5" width="10" height="31.6" fill="#26a69a" stroke="#8e90a0" stroke-width="2"/>
<rect x="1433.5" y="769.6" width="2" height="121.1" fill="#ee4340"/>
<rect x="1428.5" y="818.8" width="12" height="15.6" fill="#ef5350"/>
<rect x="1449.0" y="797.7" width="2" height="71.0" fill="#149f8f"/>
<rect x="1444.0" y="832.8" width="12" height="2.5" fill="#8e90a0"/>
<rect x="1464.4" y="535.1" width="2" height="298.3" fill="#149f8f"/>
<rect x="1460.4" y="756.6" width="10" height="74.9" fill="#26a69a" stroke="#8e90a0" stroke-width="2"/>
<rect x="1479.9" y="677.8" width="2" height="119.9" fill="#149f8f"/>
<rect x="1475.9" y="709.9" width="10" height="44.4" fill="#26a69a" stroke="#8e90a0" stroke-width="2"/>
<rect x="1495.3" y="600.8" width="2" height="133.9" fill="#149f8f"/>
<rect x="1491.3" y="625.5" width="10" height="83.0" fill="#26a69a" stroke="#8e90a0" stroke-width="2"/>
<rect x="1510.8" y="590.6" width="2" height="92.2" fill="#ee4340"/>
<rect x="1505.8" y="623.9" width="12" height="46.7" fill="#ef5350"/>
<rect x="1526.2" y="590.6" width="2" height="113.0" fill="#149f8f"/>
<rect x="1522.2" y="652.6" width="10" height="15.4" fill="#26a69a" stroke="#8e90a0" stroke-width="2"/>
<rect x="1541.7" y="627.0" width="2" height="50.8" fill="#ee4340"/>
<rect x="1536.7" y="653.2" width="12" height="2.5" fill="#ef5350"/>
<rect x="1557.1" y="627.0" width="2" height="160.7" fill="#ee4340"/>
<rect x="1552.1" y="653.2" width="12" height="100.6" fill="#ef5350"/>
<rect x="1572.6" y="656.9" width="2" height="133.9" fill="#149f8f"/>
<rect x="1568.6" y="697.8" width="10" height="55.6" fill="#26a69a" stroke="#8e90a0" stroke-width="2"/>
<rect x="1588.0" y="669.0" width="2" height="59.8" fill="#ee4340"/>
<rect x="1583.0" y="696.4" width="12" height="3.4" fill="#ef5350"/>
<rect x="1603.5" y="666.9" width="2" height="71.6" fill="#149f8f"/>
<rect x="1599.5" y="687.8" width="10" height="12.0" fill="#26a69a" stroke="#8e90a0" stroke-width="2"/>
<rect x="1618.9" y="613.9" width="2" height="81.6" fill="#149f8f"/>
<rect x="1614.9" y="676.6" width="10" height="7.7" fill="#26a69a" stroke="#8e90a0" stroke-width="2"/>
<rect x="1634.4" y="632.9" width="2" height="52.6" fill="#149f8f"/>
<rect x="1630.4" y="645.4" width="10" height="28.8" fill="#26a69a" stroke="#8e90a0" stroke-width="2"/>
<rect x="1649.8" y="634.8" width="2" height="116.2" fill="#ee4340"/>
<rect x="1644.8" y="642.9" width="12" height="69.8" fill="#ef5350"/>
<rect x="1665.3" y="653.8" width="2" height="68.2" fill="#149f8f"/>
<rect x="1661.3" y="677.8" width="10" height="34.1" fill="#26a69a" stroke="#8e90a0" stroke-width="2"/>
<rect x="1680.7" y="646.0" width="2" height="92.5" fill="#149f8f"/>
<rect x="1676.7" y="657.9" width="10" height="17.3" fill="#26a69a" stroke="#8e90a0" stroke-width="2"/>
<rect x="1696.2" y="530.8" width="2" height="131.1" fill="#149f8f"/>
<rect x="1692.2" y="637.6" width="10" height="17.6" fill="#26a69a" stroke="#8e90a0" stroke-width="2"/>
<rect x="1711.6" y="541.0" width="2" height="105.0" fill="#149f8f"/>
<rect x="1707.6" y="566.6" width="10" height="67.1" fill="#26a69a" stroke="#8e90a0" stroke-width="2"/>
<rect x="1727.1" y="171.1" width="2" height="394.5" fill="#149f8f"/>
<rect x="1723.1" y="318.8" width="10" height="244.6" fill="#26a69a" stroke="#8e90a0" stroke-width="2"/>
<rect x="1742.5" y="239.0" width="2" height="179.7" fill="#ee4340"/>
<rect x="1737.5" y="318.1" width="12" height="50.5" fill="#ef5350"/>
<rect x="1758.0" y="302.9" width="2" height="110.9" fill="#ee4340"/>
<rect x="1753.0" y="370.1" width="12" height="26.5" fill="#ef5350"/>
<rect x="1773.4" y="344.9" width="2" height="88.8" fill="#149f8f"/>
<rect x="1769.4" y="360.6" width="10" height="35.7" fill="#26a69a" stroke="#8e90a0" stroke-width="2"/>
<rect x="1788.9" y="335.9" width="2" height="131.7" fill="#ee4340"/>
<rect x="1783.9" y="358.9" width="12" height="76.6" fill="#ef5350"/>
<rect x="1804.3" y="425.9" width="2" height="261.8" fill="#ee4340"/>
<rect x="1799.3" y="434.9" width="12" height="198.6" fill="#ef5350"/>
<rect x="1819.8" y="484.7" width="2" height="155.1" fill="#149f8f"/>
<rect x="1815.8" y="547.3" width="10" height="84.9" fill="#26a69a" stroke="#8e90a0" stroke-width="2"/>
<rect x="1835.2" y="514.9" width="2" height="89.1" fill="#149f8f"/>
<rect x="1831.2" y="541.7" width="10" height="3.6" fill="#26a69a" stroke="#8e90a0" stroke-width="2"/>
<rect x="1850.7" y="462.0" width="2" height="119.8" fill="#ee4340"/>
<rect x="1845.7" y="541.4" width="12" height="9.3" fill="#ef5350"/>
<rect x="1866.1" y="519.9" width="2" height="133.9" fill="#ee4340"/>
<rect x="1861.1" y="549.1" width="12" height="45.5" fill="#ef5350"/>
<rect x="1881.6" y="547.6" width="2" height="105.0" fill="#149f8f"/>
<rect x="1877.6" y="561.7" width="10" height="29.5" fill="#26a69a" stroke="#8e90a0" stroke-width="2"/>
<rect x="1897.0" y="420.0" width="2" height="165.9" fill="#149f8f"/>
<rect x="1893.0" y="437.8" width="10" height="120.6" fill="#26a69a" stroke="#8e90a0" stroke-width="2"/>
<rect x="1912.5" y="406.9" width="2" height="175.9" fill="#ee4340"/>
<rect x="1907.5" y="434.9" width="12" height="131.7" fill="#ef5350"/>
<rect x="1927.9" y="484.7" width="2" height="90.3" fill="#149f8f"/>
<rect x="1923.9" y="509.7" width="10" height="55.6" fill="#26a69a" stroke="#8e90a0" stroke-width="2"/>
<rect x="1943.4" y="480.1" width="2" height="47.3" fill="#149f8f"/>
<rect x="1938.4" y="507.4" width="12" height="2.5" fill="#8e90a0"/>
<rect x="1958.8" y="405.0" width="2" height="111.7" fill="#149f8f"/>
<rect x="1954.8" y="489.4" width="10" height="17.0" fill="#26a69a" stroke="#8e90a0" stroke-width="2"/>
<rect x="1974.3" y="434.0" width="2" height="93.3" fill="#149f8f"/>
<rect x="1970.3" y="468.6" width="10" height="18.8" fill="#26a69a" stroke="#8e90a0" stroke-width="2"/>
<rect x="1989.7" y="452.1" width="2" height="98.0" fill="#ee4340"/>
<rect x="1984.7" y="467.9" width="12" height="55.7" fill="#ef5350"/>
<rect x="2005.2" y="508.0" width="2" height="77.9" fill="#149f8f"/>
<rect x="2001.2" y="510.3" width="10" height="11.1" fill="#26a69a" stroke="#8e90a0" stroke-width="2"/>
<rect x="2020.6" y="446.1" width="2" height="88.7" fill="#ee4340"/>
<rect x="2015.6" y="510.2" width="12" height="3.4" fill="#ef5350"/>
<rect x="2036.1" y="501.2" width="2" height="125.8" fill="#ee4340"/>
<rect x="2031.1" y="513.0" width="12" height="73.5" fill="#ef5350"/>
<rect x="2051.5" y="571.9" width="2" height="81.0" fill="#ee4340"/>
<rect x="2046.5" y="586.2" width="12" height="17.4" fill="#ef5350"/>
<rect x="2067.0" y="507.1" width="2" height="105.6" fill="#149f8f"/>
<rect x="2063.0" y="550.4" width="10" height="51.9" fill="#26a69a" stroke="#8e90a0" stroke-width="2"/>
<rect x="2082.4" y="542.9" width="2" height="69.8" fill="#ee4340"/>
<rect x="2077.4" y="549.1" width="12" height="39.6" fill="#ef5350"/>
<rect x="2097.9" y="585.9" width="2" height="70.4" fill="#ee4340"/>
<rect x="2092.9" y="588.1" width="12" height="63.3" fill="#ef5350"/>
<rect x="2113.3" y="599.3" width="2" height="62.3" fill="#149f8f"/>
<rect x="2109.3" y="623.4" width="10" height="25.4" fill="#26a69a" stroke="#8e90a0" stroke-width="2"/>
<rect x="2128.8" y="614.3" width="2" height="71.3" fill="#ee4340"/>
<rect x="2123.8" y="623.3" width="12" height="22.1" fill="#ef5350"/>
<rect x="2144.2" y="643.6" width="2" height="151.0" fill="#ee4340"/>
<rect x="2139.2" y="646.1" width="12" height="83.5" fill="#ef5350"/>
<rect x="2159.7" y="719.2" width="2" height="75.4" fill="#ee4340"/>
<rect x="2154.7" y="728.6" width="12" height="32.7" fill="#ef5350"/>
<rect x="2175.1" y="738.2" width="2" height="38.6" fill="#ee4340"/>
<rect x="2170.1" y="761.3" width="12" height="3.4" fill="#ef5350"/>
<rect x="2190.6" y="748.2" width="2" height="43.3" fill="#149f8f"/>
<rect x="2186.6" y="758.9" width="10" height="4.5" fill="#26a69a" stroke="#8e90a0" stroke-width="2"/>
<rect x="2206.0" y="739.5" width="2" height="85.0" fill="#ee4340"/>
<rect x="2201.0" y="756.6" width="12" height="4.7" fill="#ef5350"/>
<rect x="2221.5" y="691.2" width="2" height="119.3" fill="#ee4340"/>
<rect x="2216.5" y="761.0" width="12" height="24.6" fill="#ef5350"/>
<rect x="2236.9" y="757.2" width="2" height="164.4" fill="#ee4340"/>
<rect x="2231.9" y="785.3" width="12" height="105.3" fill="#ef5350"/>
<rect x="2252.4" y="849.1" width="2" height="95.0" fill="#149f8f"/>
<rect x="2248.4" y="861.3" width="10" height="27.9" fill="#26a69a" stroke="#8e90a0" stroke-width="2"/>
<rect x="2267.8" y="818.3" width="2" height="85.3" fill="#149f8f"/>
<rect x="2263.8" y="855.7" width="10" height="4.2" fill="#26a69a" stroke="#8e90a0" stroke-width="2"/>
<rect x="2283.3" y="790.2" width="2" height="95.3" fill="#149f8f"/>
<rect x="2279.3" y="800.6" width="10" height="52.5" fill="#26a69a" stroke="#8e90a0" stroke-width="2"/>
<rect x="2298.8" y="741.4" width="2" height="106.2" fill="#149f8f"/>
<rect x="2294.8" y="766.6" width="10" height="31.3" fill="#26a69a" stroke="#8e90a0" stroke-width="2"/>
<rect x="2314.2" y="672.2" width="2" height="117.4" fill="#149f8f"/>
<rect x="2310.2" y="742.7" width="10" height="21.4" fill="#26a69a" stroke="#8e90a0" stroke-width="2"/>
<rect x="2329.6" y="718.0" width="2" height="160.7" fill="#ee4340"/>
<rect x="2324.6" y="740.1" width="12" height="105.3" fill="#ef5350"/>
<rect x="2345.1" y="822.0" width="2" height="49.8" fill="#149f8f"/>
<rect x="2341.1" y="837.0" width="10" height="8.0" fill="#26a69a" stroke="#8e90a0" stroke-width="2"/>
<rect x="2360.5" y="748.2" width="2" height="96.5" fill="#149f8f"/>
<rect x="2356.5" y="760.7" width="10" height="73.4" fill="#26a69a" stroke="#8e90a0" stroke-width="2"/>
<rect x="2376.0" y="727.0" width="2" height="91.6" fill="#ee4340"/>
<rect x="2371.0" y="757.2" width="12" height="52.3" fill="#ef5350"/>
<rect x="2391.4" y="751.0" width="2" height="60.7" fill="#149f8f"/>
<rect x="2387.4" y="784.7" width="10" height="22.3" fill="#26a69a" stroke="#8e90a0" stroke-width="2"/>
<rect x="2406.9" y="769.1" width="2" height="83.5" fill="#ee4340"/>
<rect x="2401.9" y="783.1" width="12" height="55.4" fill="#ef5350"/>
<rect x="2422.3" y="760.0" width="2" height="98.4" fill="#149f8f"/>
<rect x="2418.3" y="781.6" width="10" height="55.6" fill="#26a69a" stroke="#8e90a0" stroke-width="2"/>
<rect x="2437.8" y="765.3" width="2" height="101.2" fill="#ee4340"/>
<rect x="2432.8" y="780.3" width="12" height="44.2" fill="#ef5350"/>
<rect x="2453.2" y="776.9" width="2" height="52.9" fill="#149f8f"/>
<rect x="2449.2" y="794.7" width="10" height="29.5" fill="#26a69a" stroke="#8e90a0" stroke-width="2"/>
<rect x="2468.7" y="787.8" width="2" height="67.0" fill="#ee4340"/>
<rect x="2463.7" y="792.4" width="12" height="29.9" fill="#ef5350"/>
<rect x="2484.1" y="811.1" width="2" height="41.4" fill="#ee4340"/>
<rect x="2479.1" y="822.0" width="12" height="13.4" fill="#ef5350"/>
<rect x="2499.6" y="813.0" width="2" height="26.8" fill="#149f8f"/>
<rect x="2495.6" y="823.6" width="10" height="10.5" fill="#26a69a" stroke="#8e90a0" stroke-width="2"/>
<rect x="2515.0" y="777.2" width="2" height="97.2" fill="#ee4340"/>
<rect x="2510.0" y="822.9" width="12" height="25.5" fill="#ef5350"/>
<rect x="2530.5" y="837.0" width="2" height="29.9" fill="#149f8f"/>
<rect x="2525.5" y="844.7" width="12" height="4.4" fill="#8e90a0"/>
<rect x="2545.9" y="792.1" width="2" height="52.0" fill="#149f8f"/>
<rect x="2541.9" y="817.7" width="10" height="25.4" fill="#26a69a" stroke="#8e90a0" stroke-width="2"/>
<rect x="2561.4" y="799.3" width="2" height="51.4" fill="#ee4340"/>
<rect x="2556.4" y="816.4" width="12" height="14.0" fill="#ef5350"/>
<rect x="2576.8" y="780.3" width="2" height="60.4" fill="#149f8f"/>
<rect x="2572.8" y="798.7" width="10" height="29.5" fill="#26a69a" stroke="#8e90a0" stroke-width="2"/>
<rect x="2592.3" y="711.1" width="2" height="102.5" fill="#149f8f"/>
<rect x="2588.3" y="754.5" width="10" height="41.3" fill="#26a69a" stroke="#8e90a0" stroke-width="2"/>
<rect x="2607.8" y="713.9" width="2" height="98.7" fill="#ee4340"/>
<rect x="2602.8" y="754.1" width="12" height="47.3" fill="#ef5350"/>
<rect x="2623.2" y="690.0" width="2" height="146.7" fill="#149f8f"/>
<rect x="2619.2" y="749.8" width="10" height="50.6" fill="#26a69a" stroke="#8e90a0" stroke-width="2"/>
<rect x="2638.6" y="703.7" width="2" height="65.1" fill="#149f8f"/>
<rect x="2633.6" y="748.2" width="12" height="2.5" fill="#8e90a0"/>
<rect x="2654.1" y="717.1" width="2" height="53.6" fill="#149f8f"/>
<rect x="2649.1" y="748.2" width="12" height="2.5" fill="#8e90a0"/>
<rect x="2669.5" y="744.8" width="2" height="49.8" fill="#ee4340"/>
<rect x="2664.5" y="749.1" width="12" height="31.1" fill="#ef5350"/>
<rect x="2685.0" y="774.1" width="2" height="23.7" fill="#ee4340"/>
<rect x="2680.0" y="780.3" width="12" height="3.1" fill="#ef5350"/>
<rect x="2700.4" y="766.3" width="2" height="35.5" fill="#ee4340"/>
<rect x="2695.4" y="783.4" width="12" height="9.0" fill="#ef5350"/>
<rect x="2715.9" y="774.4" width="2" height="24.3" fill="#149f8f"/>
<rect x="2711.9" y="781.6" width="10" height="10.5" fill="#26a69a" stroke="#8e90a0" stroke-width="2"/>
<rect x="2731.3" y="755.1" width="2" height="39.6" fill="#149f8f"/>
<rect x="2727.3" y="761.7" width="10" height="18.2" fill="#26a69a" stroke="#8e90a0" stroke-width="2"/>
<rect x="2746.8" y="752.9" width="2" height="21.8" fill="#ee4340"/>
<rect x="2741.8" y="760.4" width="12" height="10.3" fill="#ef5350"/>
<rect x="2762.2" y="764.4" width="2" height="59.2" fill="#ee4340"/>
<rect x="2757.2" y="770.0" width="12" height="8.4" fill="#ef5350"/>
<rect x="2777.7" y="749.1" width="2" height="38.6" fill="#149f8f"/>
<rect x="2773.7" y="763.5" width="10" height="13.6" fill="#26a69a" stroke="#8e90a0" stroke-width="2"/>
<rect x="2793.1" y="713.3" width="2" height="63.5" fill="#149f8f"/>
<rect x="2789.1" y="746.4" width="10" height="14.5" fill="#26a69a" stroke="#8e90a0" stroke-width="2"/>
<rect x="2808.6" y="700.2" width="2" height="68.5" fill="#149f8f"/>
<rect x="2804.6" y="708.4" width="10" height="35.4" fill="#26a69a" stroke="#8e90a0" stroke-width="2"/>
<rect x="2824.0" y="666.9" width="2" height="57.9" fill="#149f8f"/>
<rect x="2819.0" y="704.6" width="12" height="2.8" fill="#8e90a0"/>
<rect x="2839.5" y="699.0" width="2" height="52.0" fill="#149f8f"/>
<rect x="2834.5" y="702.1" width="12" height="4.0" fill="#8e90a0"/>
<path d="M26 701H3405" stroke="#0b8c7e" stroke-width="2" stroke-dasharray="2 4"/>
</g>
<g clip-path="url(#cpRsi)">
<path d="M25 1365.0H3402" stroke="#5f6370" stroke-width="2" stroke-dasharray="10 12"/>
<path d="M25 1473.7H3402" stroke="#5f6370" stroke-width="2" stroke-dasharray="10 12"/>
<path d="M25 1419.3H3402" stroke="#a5a6b4" stroke-width="2" stroke-dasharray="10 12"/>
<path d="M25.5 1442.4 C29.0 1443.1 38.4 1445.3 46.6 1446.7 C54.8 1448.1 64.7 1449.7 74.5 1450.8 C84.4 1451.9 97.3 1452.7 105.6 1453.3 C113.9 1453.8 116.5 1454.1 124.2 1453.9 C132.0 1453.6 144.9 1452.7 152.2 1451.7 C159.4 1450.7 162.5 1448.8 167.7 1447.7 C172.9 1446.6 175.5 1447.7 183.2 1445.2 C191.0 1442.7 203.9 1436.3 214.3 1432.8 C224.6 1429.2 237.7 1426.2 245.3 1423.8 C253.0 1421.3 252.2 1420.5 259.9 1418.2 C267.7 1415.8 281.4 1412.3 291.9 1409.5 C302.4 1406.6 312.8 1403.3 323.0 1401.1 C333.1 1398.9 345.3 1397.1 352.8 1396.4 C360.3 1395.8 362.6 1396.2 368.0 1397.0 C373.4 1397.9 379.9 1400.4 385.1 1401.4 C390.3 1402.4 394.2 1402.0 399.1 1403.0 C404.0 1403.9 409.2 1405.5 414.6 1407.3 C420.0 1409.1 426.2 1411.7 431.7 1413.5 C437.1 1415.3 439.4 1415.8 447.2 1418.2 C455.0 1420.5 467.9 1424.8 478.3 1427.5 C488.6 1430.2 499.0 1431.9 509.3 1434.3 C519.7 1436.7 530.0 1439.8 540.4 1442.1 C550.7 1444.4 564.1 1447.3 571.4 1448.3 C578.8 1449.3 579.3 1448.6 584.5 1448.3 C589.6 1448.0 592.2 1447.0 602.5 1446.7 C612.7 1446.4 631.0 1446.9 646.0 1446.4 C661.0 1445.9 677.0 1444.7 692.5 1443.6 C708.1 1442.5 726.2 1441.2 739.1 1439.9 C752.1 1438.6 760.2 1437.2 770.2 1435.9 C780.2 1434.5 788.9 1432.8 799.1 1431.8 C809.2 1430.8 820.5 1430.4 831.1 1430.0 C841.6 1429.5 851.8 1429.1 862.1 1429.0 C872.5 1428.9 885.4 1429.4 893.2 1429.3 C901.0 1429.3 901.2 1428.5 909.0 1428.7 C916.8 1429.0 929.5 1429.8 939.8 1430.9 C950.1 1432.0 963.0 1434.5 970.8 1435.6 C978.6 1436.6 981.2 1436.3 986.3 1437.1 C991.5 1437.9 994.1 1439.3 1001.9 1440.2 C1009.6 1441.1 1022.6 1441.6 1032.9 1442.4 C1043.3 1443.2 1053.6 1444.2 1064.0 1444.9 C1074.3 1445.5 1087.3 1446.1 1095.0 1446.4 C1102.8 1446.8 1103.0 1446.4 1110.6 1447.0 C1118.2 1447.7 1133.1 1449.9 1140.7 1450.5 C1148.3 1451.0 1148.3 1450.8 1156.2 1450.5 C1164.1 1450.2 1177.7 1449.2 1188.2 1448.6 C1198.7 1448.0 1211.5 1447.1 1219.3 1446.7 C1227.0 1446.4 1227.0 1447.0 1234.8 1446.4 C1242.5 1445.9 1255.5 1444.5 1265.8 1443.3 C1276.2 1442.1 1286.9 1440.9 1296.9 1439.3 C1306.9 1437.7 1313.5 1437.3 1326.1 1433.7 C1338.7 1430.1 1359.5 1422.8 1372.4 1417.5 C1385.2 1412.3 1393.1 1406.8 1403.4 1402.0 C1413.7 1397.2 1423.9 1393.2 1434.2 1388.7 C1444.5 1384.1 1454.9 1379.3 1465.2 1374.7 C1475.5 1370.0 1487.8 1364.2 1496.0 1360.7 C1504.1 1357.2 1506.5 1356.4 1514.3 1353.9 C1522.0 1351.4 1535.3 1346.9 1542.5 1345.8 C1549.8 1344.7 1552.1 1346.9 1557.8 1347.0 C1563.4 1347.2 1570.0 1346.4 1576.4 1346.4 C1582.8 1346.5 1586.3 1346.5 1596.0 1347.5 C1605.6 1348.5 1622.5 1350.4 1634.2 1352.3 C1645.9 1354.3 1655.7 1357.0 1666.1 1359.2 C1676.6 1361.3 1689.2 1364.0 1696.9 1365.4 C1704.6 1366.8 1707.3 1367.3 1712.4 1367.5 C1717.5 1367.8 1719.9 1366.7 1727.6 1366.9 C1735.4 1367.1 1750.9 1368.9 1758.7 1368.8 C1766.5 1368.7 1769.1 1366.5 1774.2 1366.3 C1779.3 1366.1 1781.7 1366.5 1789.4 1367.5 C1797.2 1368.6 1810.1 1370.8 1820.5 1372.5 C1830.8 1374.2 1841.3 1376.3 1851.6 1377.8 C1861.9 1379.2 1874.6 1380.5 1882.3 1381.2 C1890.0 1381.9 1890.1 1380.8 1897.8 1381.8 C1905.5 1382.9 1920.9 1385.7 1928.6 1387.4 C1936.3 1389.2 1936.3 1390.4 1944.1 1392.4 C1951.9 1394.4 1967.4 1397.6 1975.2 1399.5 C1982.9 1401.4 1985.2 1402.8 1990.4 1403.9 C1995.5 1404.9 2000.7 1405.5 2005.9 1405.7 C2011.1 1406.0 2013.7 1405.0 2021.4 1405.4 C2029.1 1405.8 2041.9 1407.6 2052.2 1408.2 C2062.5 1408.9 2075.5 1409.0 2083.2 1409.5 C2091.0 1410.0 2093.6 1410.5 2098.8 1411.3 C2103.9 1412.2 2108.9 1413.7 2114.0 1414.4 C2119.1 1415.2 2124.3 1415.2 2129.5 1416.0 C2134.7 1416.8 2137.3 1417.3 2145.0 1419.1 C2152.8 1420.9 2165.8 1424.1 2176.1 1426.6 C2186.4 1429.0 2199.1 1431.8 2206.8 1433.7 C2214.5 1435.6 2217.2 1436.3 2222.4 1437.7 C2227.5 1439.2 2232.8 1441.1 2237.9 1442.4 C2243.0 1443.7 2248.0 1444.6 2253.1 1445.5 C2258.2 1446.4 2263.5 1447.2 2268.6 1448.0 C2273.8 1448.8 2279.0 1449.6 2284.2 1450.2 C2289.3 1450.7 2294.6 1451.0 2299.7 1451.1 C2304.8 1451.1 2309.8 1450.3 2314.9 1450.5 C2320.0 1450.6 2325.3 1451.7 2330.4 1452.0 C2335.6 1452.4 2340.5 1452.7 2345.7 1452.6 C2350.8 1452.5 2356.0 1451.8 2361.2 1451.4 C2366.4 1451.0 2371.5 1450.6 2376.7 1450.2 C2381.9 1449.7 2387.1 1449.0 2392.2 1448.6 C2397.4 1448.2 2402.3 1448.1 2407.5 1447.7 C2412.6 1447.2 2417.8 1446.4 2423.0 1445.8 C2428.2 1445.2 2433.3 1444.8 2438.5 1443.9 C2443.7 1443.1 2448.9 1441.7 2454.0 1440.8 C2459.2 1440.0 2464.1 1439.4 2469.3 1438.7 C2474.4 1437.9 2479.6 1437.1 2484.8 1436.5 C2490.0 1435.9 2495.1 1435.4 2500.3 1435.2 C2505.5 1435.1 2510.7 1435.7 2515.8 1435.9 C2521.0 1436.0 2525.9 1436.3 2531.1 1436.2 C2536.2 1436.0 2541.4 1435.2 2546.6 1434.9 C2551.8 1434.6 2556.9 1434.5 2562.1 1434.3 C2567.3 1434.1 2572.5 1434.1 2577.6 1433.7 C2582.8 1433.3 2587.7 1432.2 2592.9 1431.8 C2598.0 1431.4 2603.2 1431.7 2608.4 1431.2 C2613.6 1430.7 2618.7 1429.7 2623.9 1429.0 C2629.1 1428.4 2634.3 1428.1 2639.4 1427.5 C2644.6 1426.9 2649.5 1426.0 2654.7 1425.6 C2659.8 1425.2 2665.0 1425.3 2670.2 1425.0 C2675.4 1424.7 2680.5 1424.4 2685.7 1424.1 C2690.9 1423.8 2696.1 1423.5 2701.2 1423.1 C2706.4 1422.8 2711.3 1422.5 2716.5 1421.9 C2721.6 1421.3 2726.8 1420.3 2732.0 1419.7 C2737.2 1419.2 2742.3 1418.8 2747.5 1418.5 C2752.7 1418.1 2757.9 1417.9 2763.0 1417.5 C2768.2 1417.2 2773.1 1416.7 2778.3 1416.3 C2783.4 1415.9 2788.6 1415.5 2793.8 1415.1 C2799.0 1414.6 2804.1 1414.4 2809.3 1413.8 C2814.5 1413.3 2819.7 1412.3 2824.8 1411.6 C2830.0 1411.0 2837.8 1410.4 2840.4 1410.1" stroke="#d5f73a" stroke-width="2.5" fill="none" stroke-linejoin="round" stroke-linecap="round" />
<path d="M28.6 1444.6 L44.0 1452.3 L59.5 1462.9 L74.9 1460.1 L90.4 1453.0 L105.8 1452.3 L121.3 1443.0 L136.8 1452.3 L152.2 1435.2 L167.6 1400.2 L183.1 1415.1 L198.5 1377.8 L214.0 1356.1 L229.4 1391.8 L244.9 1382.5 L260.4 1376.2 L275.8 1405.1 L291.2 1405.7 L306.7 1390.2 L322.2 1392.7 L337.6 1408.9 L353.1 1409.8 L368.5 1443.6 L383.9 1463.8 L399.4 1433.7 L414.9 1438.4 L430.3 1443.0 L445.8 1450.8 L461.2 1448.9 L476.6 1445.2 L492.1 1446.7 L507.6 1448.3 L523.0 1447.4 L538.4 1446.1 L553.9 1452.3 L569.4 1460.1 L584.8 1448.6 L600.2 1439.9 L615.7 1440.8 L631.1 1434.9 L646.6 1439.3 L662.0 1430.6 L677.5 1435.9 L693.0 1435.9 L708.4 1425.9 L723.9 1430.6 L739.3 1426.2 L754.8 1430.6 L770.2 1423.8 L785.6 1421.9 L801.1 1426.6 L816.5 1434.3 L832.0 1426.2 L847.4 1428.1 L862.9 1430.6 L878.4 1433.1 L893.8 1440.2 L909.2 1428.1 L924.7 1438.7 L940.1 1442.7 L955.6 1467.9 L971.0 1461.0 L986.5 1445.2 L1001.9 1459.5 L1017.4 1443.0 L1032.8 1449.8 L1048.3 1445.2 L1063.7 1448.3 L1079.2 1444.6 L1094.6 1445.5 L1110.1 1443.6 L1125.5 1450.8 L1141.0 1461.0 L1156.4 1442.7 L1171.9 1448.6 L1187.3 1446.7 L1202.8 1443.6 L1218.2 1439.9 L1233.7 1441.5 L1249.1 1424.1 L1264.6 1424.7 L1280.0 1421.0 L1295.5 1420.0 L1310.9 1404.8 L1326.4 1401.1 L1341.8 1370.7 L1357.3 1382.5 L1372.7 1367.9 L1388.2 1346.7 L1403.6 1342.4 L1419.1 1337.7 L1434.5 1346.7 L1450.0 1346.1 L1465.4 1333.7 L1480.9 1321.3 L1496.3 1325.9 L1511.8 1342.1 L1527.2 1339.6 L1542.7 1340.8 L1558.1 1383.7 L1573.6 1372.5 L1589.0 1374.1 L1604.5 1371.6 L1619.9 1369.1 L1635.4 1362.9 L1650.8 1390.5 L1666.3 1382.5 L1681.7 1378.4 L1697.2 1373.8 L1712.6 1360.7 L1728.1 1333.7 L1743.5 1349.2 L1759.0 1357.3 L1774.4 1353.3 L1789.9 1375.6 L1805.3 1417.5 L1820.8 1404.2 L1836.2 1403.3 L1851.7 1405.1 L1867.1 1414.1 L1882.6 1407.9 L1898.0 1388.7 L1913.5 1413.5 L1928.9 1404.8 L1944.4 1404.5 L1959.8 1401.4 L1975.3 1398.0 L1990.7 1410.1 L2006.2 1407.3 L2021.6 1408.2 L2037.1 1424.1 L2052.5 1427.8 L2068.0 1415.4 L2083.4 1425.3 L2098.9 1436.8 L2114.3 1429.0 L2129.8 1434.0 L2145.2 1449.5 L2160.7 1454.8 L2176.1 1455.4 L2191.6 1453.3 L2207.0 1454.2 L2222.5 1458.9 L2237.9 1476.2 L2253.4 1466.0 L2268.8 1463.8 L2284.3 1446.4 L2299.8 1435.9 L2315.2 1429.0 L2330.6 1450.5 L2346.1 1448.0 L2361.5 1426.9 L2377.0 1437.7 L2392.4 1431.2 L2407.9 1442.1 L2423.3 1426.9 L2438.8 1436.2 L2454.2 1428.4 L2469.7 1434.6 L2485.1 1437.4 L2500.6 1433.7 L2516.0 1439.9 L2531.5 1438.7 L2546.9 1429.3 L2562.4 1433.1 L2577.8 1422.5 L2593.3 1409.2 L2608.8 1423.8 L2624.2 1408.9 L2639.6 1408.9 L2655.1 1408.9 L2670.5 1419.4 L2686.0 1421.3 L2701.4 1424.4 L2716.9 1419.7 L2732.3 1412.0 L2747.8 1416.3 L2763.2 1419.7 L2778.7 1412.6 L2794.1 1406.1 L2809.6 1391.8 L2825.0 1391.5 L2840.5 1389.6" stroke="#9b4ccd" stroke-width="2.5" fill="none" stroke-linejoin="round" stroke-linecap="round" />
</g>
<path d="M25 66.5H3600M3600 66V1583M25 1583.5H3600M25.5 66V1583" stroke="#e4e7ee" stroke-width="2" fill="none"/>
<path d="M3406 67V1583" stroke="#4a4a4a" stroke-width="2"/>
<path d="M25 1515H3600" stroke="#4a4a4a" stroke-width="2"/>
<text x="45.4" y="115.3" font-size="27" fill="#555" stroke="#555" stroke-width="0.45" textLength="635.2" lengthAdjust="spacingAndGlyphs" >Shiba Inu / United States Dollar, 1D, COINBASE</text>
<text x="700.6" y="115.3" font-size="27" fill="#555" stroke="#555" stroke-width="0.45" textLength="17.4" lengthAdjust="spacingAndGlyphs" >O</text>
<text x="722.6" y="115.3" font-size="27" fill="#9a9da8" stroke="#9a9da8" stroke-width="0.45" textLength="145.0" lengthAdjust="spacingAndGlyphs" >0.00001157</text>
<text x="888.4" y="115.3" font-size="27" fill="#555" stroke="#555" stroke-width="0.45" textLength="16.8" lengthAdjust="spacingAndGlyphs" >H</text>
<text x="907.7" y="115.3" font-size="27" fill="#9a9da8" stroke="#9a9da8" stroke-width="0.45" textLength="144.3" lengthAdjust="spacingAndGlyphs" >0.00001162</text>
<text x="1073.6" y="115.3" font-size="27" fill="#555" stroke="#555" stroke-width="0.45" textLength="13.3" lengthAdjust="spacingAndGlyphs" >L</text>
<text x="1088.6" y="115.3" font-size="27" fill="#9a9da8" stroke="#9a9da8" stroke-width="0.45" textLength="144.0" lengthAdjust="spacingAndGlyphs" >0.00001120</text>
<text x="1253.6" y="115.3" font-size="27" fill="#555" stroke="#555" stroke-width="0.45" textLength="15.0" lengthAdjust="spacingAndGlyphs" >C</text>
<text x="1271.0" y="115.3" font-size="27" fill="#9a9da8" stroke="#9a9da8" stroke-width="0.45" textLength="141.5" lengthAdjust="spacingAndGlyphs" >0.00001161</text>
<text x="1436.3" y="115.3" font-size="27" fill="#9a9da8" stroke="#9a9da8" stroke-width="0.45" textLength="276.0" lengthAdjust="spacingAndGlyphs" >+0.00000003 (+0.26%)</text>
<text x="45.4" y="157.2" font-size="27" fill="#555" stroke="#555" stroke-width="0.45" textLength="128.3" lengthAdjust="spacingAndGlyphs" >Vol · SHIB</text>
<text x="194.6" y="157.2" font-size="27" fill="#26a69a" stroke="#26a69a" stroke-width="0.45" textLength="116.4" lengthAdjust="spacingAndGlyphs" >479.898B</text>
<text x="45.4" y="241.0" font-size="27" fill="#555" stroke="#555" stroke-width="0.45" textLength="128.3" lengthAdjust="spacingAndGlyphs" >Vol · SHIB</text>
<text x="194.6" y="241.0" font-size="27" fill="#26a69a" stroke="#26a69a" stroke-width="0.45" textLength="116.4" lengthAdjust="spacingAndGlyphs" >479.898B</text>
<text x="45.4" y="199.1" font-size="27" fill="#555" stroke="#555" stroke-width="0.45" textLength="262.1" lengthAdjust="spacingAndGlyphs" >EMA 20/50/100/200</text>
<text x="327.7" y="199.1" font-size="27" fill="#ff7f0e" stroke="#ff7f0e" stroke-width="0.45" textLength="144.7" lengthAdjust="spacingAndGlyphs" >0.00001117</text>
<text x="492.7" y="199.1" font-size="27" fill="#00ffff" stroke="#00ffff" stroke-width="0.45" textLength="144.3" lengthAdjust="spacingAndGlyphs" >0.00001113</text>
<text x="657.9" y="199.1" font-size="27" fill="#0000ff" stroke="#0000ff" stroke-width="0.45" textLength="144.7" lengthAdjust="spacingAndGlyphs" >0.00001154</text>
<text x="46.0" y="1382.5" font-size="27" fill="#555" stroke="#555" stroke-width="0.45" textLength="353.0" lengthAdjust="spacingAndGlyphs" fill-opacity="0.9">RSI (14, close, SMA, 14, 2)</text>
<text x="420.0" y="1382.5" font-size="27" fill="#9b4ccd" stroke="#9b4ccd" stroke-width="0.45" textLength="66.6" lengthAdjust="spacingAndGlyphs" >60.81</text>
<text x="510.9" y="1382.5" font-size="27" fill="#d5f73a" stroke="#d5f73a" stroke-width="0.45" textLength="68.0" lengthAdjust="spacingAndGlyphs" >53.29</text>
<g stroke="#555" stroke-width="2.2" fill="none"><circle cx="613.3" cy="1373.5" r="8.3"/><path d="M605.8 1384.0L620.8 1363.0"/></g>
<g stroke="#555" stroke-width="2.2" fill="none"><circle cx="663" cy="1373.5" r="8.3"/><path d="M655.5 1384.0L670.5 1363.0"/></g>
<text x="3429.0" y="1280.3" font-size="27" fill="#555" stroke="#555" stroke-width="0.45" textLength="144.0" lengthAdjust="spacingAndGlyphs" >0.00000700</text>
<text x="3429.0" y="1156.7" font-size="27" fill="#555" stroke="#555" stroke-width="0.45" textLength="144.0" lengthAdjust="spacingAndGlyphs" >0.00000800</text>
<text x="3429.0" y="1033.1" font-size="27" fill="#555" stroke="#555" stroke-width="0.45" textLength="144.0" lengthAdjust="spacingAndGlyphs" >0.00000900</text>
<text x="3429.0" y="909.5" font-size="27" fill="#555" stroke="#555" stroke-width="0.45" textLength="144.0" lengthAdjust="spacingAndGlyphs" >0.00001000</text>
<text x="3429.0" y="785.8" font-size="27" fill="#555" stroke="#555" stroke-width="0.45" textLength="144.0" lengthAdjust="spacingAndGlyphs" >0.00001100</text>
<text x="3429.0" y="662.2" font-size="27" fill="#555" stroke="#555" stroke-width="0.45" textLength="144.0" lengthAdjust="spacingAndGlyphs" >0.00001200</text>
<text x="3429.0" y="538.6" font-size="27" fill="#555" stroke="#555" stroke-width="0.45" textLength="144.0" lengthAdjust="spacingAndGlyphs" >0.00001300</text>
<text x="3429.0" y="415.0" font-size="27" fill="#555" stroke="#555" stroke-width="0.45" textLength="144.0" lengthAdjust="spacingAndGlyphs" >0.00001400</text>
<text x="3429.0" y="291.4" font-size="27" fill="#555" stroke="#555" stroke-width="0.45" textLength="144.0" lengthAdjust="spacingAndGlyphs" >0.00001500</text>
<text x="3429.0" y="167.8" font-size="27" fill="#555" stroke="#555" stroke-width="0.45" textLength="144.0" lengthAdjust="spacingAndGlyphs" >0.00001600</text>
<text x="3431.6" y="109.0" font-size="27" fill="#555" stroke="#555" stroke-width="0.45" textLength="45.8" lengthAdjust="spacingAndGlyphs" >USD</text>
<g clip-path="url(#cpRsi)">
<text x="3429.0" y="1347.8" font-size="27" fill="#555" stroke="#555" stroke-width="0.45" textLength="69.0" lengthAdjust="spacingAndGlyphs" >80.00</text>
<text x="3429.0" y="1456.5" font-size="27" fill="#555" stroke="#555" stroke-width="0.45" textLength="69.0" lengthAdjust="spacingAndGlyphs" >40.00</text>
</g>
<path d="M3279 681H3402.7V720.5H3279a4.5 4.5 0 0 1-4.5-4.5V685.5a4.5 4.5 0 0 1 4.5-4.5Z" fill="#26a69a"/>
<text x="3287.5" y="710.4" font-size="27" fill="#fff" stroke="#fff" stroke-width="0.25" textLength="101.5" lengthAdjust="spacingAndGlyphs" >SHIBUSD</text>
<path d="M3405 681H3582a6 6 0 0 1 6 6V747a6 6 0 0 1-6 6H3405Z" fill="#26a69a"/>
<text x="3429.6" y="710.4" font-size="27" fill="#fff" stroke="#fff" stroke-width="0.25" textLength="143.4" lengthAdjust="spacingAndGlyphs" >0.00001161</text>
<text x="3429.6" y="742.4" font-size="27" fill="#fff" stroke="#fff" stroke-width="0.25" textLength="109.4" lengthAdjust="spacingAndGlyphs" fill-opacity="0.72" stroke-opacity="0.72">16:29:19</text>
<path d="M3405 752.5H3582a6 6 0 0 1 6 6V786a6 6 0 0 1-6 6H3405Z" fill="#2962ff"/>
<text x="3429.6" y="781.8" font-size="27" fill="#fff" stroke="#fff" stroke-width="0.25" textLength="143.4" lengthAdjust="spacingAndGlyphs" >0.00001151</text>
<text x="260.4" y="1559.3" font-size="27" fill="#555" stroke="#555" stroke-width="0.45" text-anchor="middle" >Nov</text>
<text x="461.2" y="1559.3" font-size="27" fill="#555" stroke="#555" stroke-width="0.45" text-anchor="middle" >14</text>
<text x="723.9" y="1559.3" font-size="27" fill="#555" stroke="#555" stroke-width="0.45" text-anchor="middle" >Dec</text>
<text x="1001.9" y="1559.3" font-size="27" fill="#555" stroke="#555" stroke-width="0.45" text-anchor="middle" >19</text>
<text x="1202.8" y="1559.3" font-size="27" fill="#555" stroke="#555" stroke-width="0.45" text-anchor="middle" font-weight="bold" >2023</text>
<text x="1434.5" y="1559.3" font-size="27" fill="#555" stroke="#555" stroke-width="0.45" text-anchor="middle" >16</text>
<text x="1681.7" y="1559.3" font-size="27" fill="#555" stroke="#555" stroke-width="0.45" text-anchor="middle" >Feb</text>
<text x="1882.6" y="1559.3" font-size="27" fill="#555" stroke="#555" stroke-width="0.45" text-anchor="middle" >14</text>
<text x="2114.3" y="1559.3" font-size="27" fill="#555" stroke="#555" stroke-width="0.45" text-anchor="middle" >Mar</text>
<text x="2315.2" y="1559.3" font-size="27" fill="#555" stroke="#555" stroke-width="0.45" text-anchor="middle" >14</text>
<text x="2593.3" y="1559.3" font-size="27" fill="#555" stroke="#555" stroke-width="0.45" text-anchor="middle" >Apr</text>
<text x="2840.5" y="1559.3" font-size="27" fill="#555" stroke="#555" stroke-width="0.45" text-anchor="middle" >17</text>
<text x="3056.8" y="1559.3" font-size="27" fill="#555" stroke="#555" stroke-width="0.45" text-anchor="middle" >May</text>
<text x="3273.1" y="1559.3" font-size="27" fill="#555" stroke="#555" stroke-width="0.45" text-anchor="middle" >15</text>
<text x="29.5" y="1559.3" font-size="27" fill="#555" stroke="#555" stroke-width="0.45" >7</text>
<g fill="#131722"><path d="M25.5 1614.4H44.9V1638.8H34.9V1623.5H25.5Z"/><circle cx="52.5" cy="1619.7" r="5.4"/><path d="M62.7 1614.4H73.2L63.7 1638.8H52.9Z"/></g>
<text x="82.6" y="1640.3" font-size="33" fill="#131722" stroke="#131722" stroke-width="0" textLength="177.2" lengthAdjust="spacingAndGlyphs" >TradingView</text>
</svg>
</body></html>
